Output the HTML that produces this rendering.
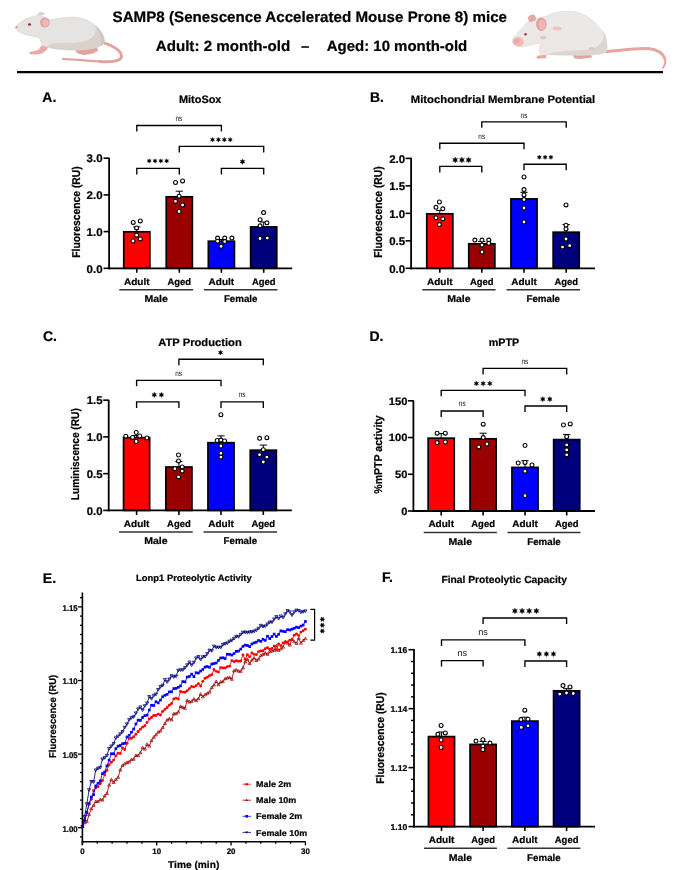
<!DOCTYPE html>
<html><head><meta charset="utf-8"><style>
html,body{margin:0;padding:0;background:#fff;width:685px;height:870px;overflow:hidden}
svg{display:block;font-family:"Liberation Sans",sans-serif;will-change:transform;text-rendering:geometricPrecision}
</style></head><body>
<svg width="685" height="870" viewBox="0 0 685 870">
<rect width="685" height="870" fill="#fff"/>
<g id="mouseL">
<path d="M103,42.5 C112,45.5 121,50 121.5,56 C122,61.5 110,62.2 100,61.5" stroke="#e2a19b" stroke-width="2.8" fill="none" stroke-linecap="round"/>
<path d="M100,61.5 C88,60.7 74,59.5 63,59" stroke="#e2a19b" stroke-width="2.2" fill="none" stroke-linecap="round"/>
<path d="M41.8,45.2 L48.8,46.6 L46,50.5 L42,53.6 L36,54.6 L30,54.2 L29.2,52.2 L34,51 L38.5,49.8 Z" fill="#e8aaa6"/>
<path d="M78,47.5 L96,46.5 L98.5,50.5 L93,53.5 L84,55 L77.5,53.5 L75.5,51 Z" fill="#e3a29e"/>
<path d="M15.9,26.8 C17,24.5 21,21.5 25,19.4 C29,17.6 33.5,16.2 37.4,15.4 C42,15.5 46,18 49.7,19.4 C53,19.6 56,18.7 60.2,18.1 C66,17.4 72,17 78,17.5 C88,19 97,25 102,33 C105.5,38.5 105,43 101,45.5 C98,47.5 92,49 86,49.5 C78,50.5 68,50 60.2,49.3 C56,49 52,48.3 49.7,47.5 C46,46.8 43.5,46 42.7,45.8 C41.5,43.5 40.5,40 39.2,37.4 C36,37 30,35.5 25.1,34.4 C21,33 18,31.5 16.5,29.5 C15.5,28.5 15.5,27.5 15.9,26.8 Z" fill="#e6e3e3" stroke="#d2cac3" stroke-width="0.5"/>
<path d="M47,47 C50,43.5 57,42.3 66,42.8 C76,43.2 84,42 90,39 C95.5,35.5 97,30 95,24.5 C99.5,28.5 103,33.5 104.2,38.5 C105,43 102,45.5 97,47.5 C90,49.5 80,50.5 70,50.3 C60,50 52,49 47,47 Z" fill="#d9d2cc"/>
<path d="M96,26 C100,30 103.5,35 104.3,39.5 C104.8,43 103,45 100.5,46.3 C102,42 101,34 96,26 Z" fill="#cfc7bf"/>
<path d="M37,15.5 C37.5,13.5 39,12 41,11.9 C43,11.8 44.8,12.6 44.8,14.6 C43,15.5 40,16 37,15.5 Z" fill="#d9d3cf"/>
<ellipse cx="44.9" cy="22.6" rx="4.8" ry="5" fill="#e3a3a1"/>
<ellipse cx="45.6" cy="22.9" rx="3" ry="3.6" fill="#ecbab8"/>
<ellipse cx="29.5" cy="24.5" rx="1.6" ry="1.25" fill="#b8222c"/>
<circle cx="16.6" cy="27.2" r="1.3" fill="#e6a0a0"/>
</g>
<g id="mouseR">
<path d="M605,51.5 C620,50.5 635,48 648,48.6 C657,49.5 663,53.5 665,59" stroke="#e5a6a1" stroke-width="3" fill="none" stroke-linecap="round"/>
<path d="M665,59 C665.8,62.5 664.8,65.5 663,67.6" stroke="#e5a6a1" stroke-width="2" fill="none" stroke-linecap="round"/>

<path d="M573,55 L591,54.5 L592,57.5 L580,59 L574,58.3 Z" fill="#e3a29e"/>
<path d="M512.4,40 C513,37 515,35.5 515.9,35.4 C518,32 520,30 521.1,29.3 C523,27 525,24.5 527.3,22.3 C530,20.5 533,19 536,18.5 C540,17.5 544,16.8 547.4,16.1 C550,14 553,13 556.2,12.6 C560,11.5 564,11 568,11.3 C576,11.5 584,13.5 590,18.5 C598,24 604,32 606.5,42 C608,48 607,52 604,53.5 C596,55 586,55.5 576,55.3 C566,55 556,55 548,54.5 C545,54 543.5,51 543,48.5 C541,46 540,44 538.7,43.3 C535,44 530,45.5 523.8,46.8 C519,47.5 515,45 513,43 C512.3,42 512.2,41 512.4,40 Z" fill="#ebe8e7" stroke="#d8d1cb" stroke-width="0.5"/>
<path d="M539.5,45 L548,47 L548.5,54.5 L546.5,56.5 L540,56.5 L538.5,50 Z" fill="#e9e6e5"/>
<path d="M546,54.5 C555,51.5 566,50.5 578,50.5 C590,50.5 598,47.5 602,42 C604.5,38 604,33 602,28.5 C605.5,34 607.5,40 607,47 C606.5,52 604,53.5 600,54 C590,55.5 575,55.5 560,55.2 Z" fill="#dcd6d0"/>
<ellipse cx="518.4" cy="41.8" rx="5.6" ry="4.8" fill="#ecbcb9"/>
<ellipse cx="516.5" cy="41" rx="3" ry="2.6" fill="#e6aaa7"/>
<ellipse cx="532" cy="18.3" rx="4" ry="3.5" fill="#e6a6a5" transform="rotate(-20 532 18.3)"/>
<ellipse cx="541.3" cy="24.2" rx="5.3" ry="6.8" fill="#e4a3a2"/>
<ellipse cx="542" cy="24.8" rx="3.3" ry="4.8" fill="#ecb7b5"/>
<ellipse cx="525.5" cy="34.3" rx="1.7" ry="1.4" fill="#e3b3b3"/>
<ellipse cx="525.5" cy="34.3" rx="1.2" ry="1.1" fill="#a8202a"/>
<ellipse cx="557" cy="28.4" rx="4.5" ry="1.9" fill="#eec5c0"/>
<ellipse cx="543" cy="37.6" rx="3.3" ry="1.8" fill="#eec5c0"/>
<ellipse cx="591.5" cy="48.4" rx="3" ry="1.2" fill="#e9bdb8"/>
<path d="M537,55.8 L545.5,55 L546.5,58 L538,58.8 L536.3,57.6 Z" fill="#e6a8a4"/>
</g>

<text x="309.80" y="22.30" font-size="15.1" text-anchor="middle" font-weight="bold" fill="#000" textLength="394.5" lengthAdjust="spacingAndGlyphs" stroke="#000" stroke-width="0.22" >SAMP8 (Senescence Accelerated Mouse Prone 8) mice</text>
<text x="223.00" y="51.30" font-size="14.8" text-anchor="middle" font-weight="bold" fill="#000" textLength="134.5" lengthAdjust="spacingAndGlyphs" stroke="#000" stroke-width="0.22" >Adult: 2 month-old</text>
<text x="305.00" y="51.30" font-size="14.8" text-anchor="middle" font-weight="bold" fill="#000" stroke="#000" stroke-width="0.22" >–</text>
<text x="397.00" y="51.30" font-size="14.8" text-anchor="middle" font-weight="bold" fill="#000" textLength="140.5" lengthAdjust="spacingAndGlyphs" stroke="#000" stroke-width="0.22" >Aged: 10 month-old</text>
<line x1="17.00" y1="72.20" x2="663.00" y2="72.20" stroke="#000" stroke-width="2.3"/>
<text x="42.30" y="102.40" font-size="14" text-anchor="start" font-weight="bold" fill="#000" stroke="#000" stroke-width="0.22" >A.</text>
<text x="200.20" y="103.20" font-size="10.8" text-anchor="middle" font-weight="bold" fill="#000" textLength="42.5" lengthAdjust="spacingAndGlyphs" stroke="#000" stroke-width="0.22" >MitoSox</text>
<rect x="123.75" y="231.80" width="26.10" height="36.50" fill="#ff0000" stroke="#000" stroke-width="1.7"/>
<rect x="166.25" y="196.80" width="26.10" height="71.50" fill="#9b0000" stroke="#000" stroke-width="1.7"/>
<rect x="208.35" y="241.20" width="26.10" height="27.10" fill="#0000ff" stroke="#000" stroke-width="1.7"/>
<rect x="250.65" y="226.90" width="26.10" height="41.40" fill="#00007d" stroke="#000" stroke-width="1.7"/>
<line x1="136.80" y1="231.80" x2="136.80" y2="226.90" stroke="#000" stroke-width="1.0"/>
<line x1="133.20" y1="226.90" x2="140.40" y2="226.90" stroke="#000" stroke-width="1.0"/>
<line x1="179.30" y1="196.80" x2="179.30" y2="191.20" stroke="#000" stroke-width="1.0"/>
<line x1="175.70" y1="191.20" x2="182.90" y2="191.20" stroke="#000" stroke-width="1.0"/>
<line x1="221.40" y1="241.20" x2="221.40" y2="239.50" stroke="#000" stroke-width="1.0"/>
<line x1="217.80" y1="239.50" x2="225.00" y2="239.50" stroke="#000" stroke-width="1.0"/>
<line x1="263.70" y1="226.90" x2="263.70" y2="222.00" stroke="#000" stroke-width="1.0"/>
<line x1="260.10" y1="222.00" x2="267.30" y2="222.00" stroke="#000" stroke-width="1.0"/>
<circle cx="133.20" cy="222.40" r="1.95" fill="#fff" stroke="#000" stroke-width="1.1"/>
<circle cx="140.30" cy="220.90" r="1.95" fill="#fff" stroke="#000" stroke-width="1.1"/>
<circle cx="136.60" cy="227.90" r="1.95" fill="#fff" stroke="#000" stroke-width="1.1"/>
<circle cx="136.60" cy="235.20" r="1.95" fill="#fff" stroke="#000" stroke-width="1.1"/>
<circle cx="133.00" cy="241.00" r="1.95" fill="#fff" stroke="#000" stroke-width="1.1"/>
<circle cx="140.30" cy="238.90" r="1.95" fill="#fff" stroke="#000" stroke-width="1.1"/>
<circle cx="175.50" cy="182.50" r="1.95" fill="#fff" stroke="#000" stroke-width="1.1"/>
<circle cx="182.60" cy="180.90" r="1.95" fill="#fff" stroke="#000" stroke-width="1.1"/>
<circle cx="179.10" cy="196.20" r="1.95" fill="#fff" stroke="#000" stroke-width="1.1"/>
<circle cx="175.50" cy="201.30" r="1.95" fill="#fff" stroke="#000" stroke-width="1.1"/>
<circle cx="182.60" cy="205.00" r="1.95" fill="#fff" stroke="#000" stroke-width="1.1"/>
<circle cx="179.10" cy="211.50" r="1.95" fill="#fff" stroke="#000" stroke-width="1.1"/>
<circle cx="217.60" cy="238.10" r="1.95" fill="#fff" stroke="#000" stroke-width="1.1"/>
<circle cx="224.70" cy="238.10" r="1.95" fill="#fff" stroke="#000" stroke-width="1.1"/>
<circle cx="231.90" cy="238.10" r="1.95" fill="#fff" stroke="#000" stroke-width="1.1"/>
<circle cx="217.60" cy="241.20" r="1.95" fill="#fff" stroke="#000" stroke-width="1.1"/>
<circle cx="224.70" cy="241.60" r="1.95" fill="#fff" stroke="#000" stroke-width="1.1"/>
<circle cx="221.10" cy="246.30" r="1.95" fill="#fff" stroke="#000" stroke-width="1.1"/>
<circle cx="263.60" cy="212.60" r="1.95" fill="#fff" stroke="#000" stroke-width="1.1"/>
<circle cx="260.10" cy="219.70" r="1.95" fill="#fff" stroke="#000" stroke-width="1.1"/>
<circle cx="267.00" cy="222.80" r="1.95" fill="#fff" stroke="#000" stroke-width="1.1"/>
<circle cx="260.10" cy="225.80" r="1.95" fill="#fff" stroke="#000" stroke-width="1.1"/>
<circle cx="260.10" cy="238.50" r="1.95" fill="#fff" stroke="#000" stroke-width="1.1"/>
<circle cx="267.30" cy="238.10" r="1.95" fill="#fff" stroke="#000" stroke-width="1.1"/>
<line x1="109.10" y1="157.80" x2="109.10" y2="269.20" stroke="#000" stroke-width="1.8"/>
<line x1="108.20" y1="268.30" x2="292.20" y2="268.30" stroke="#000" stroke-width="1.8"/>
<line x1="103.60" y1="268.30" x2="109.10" y2="268.30" stroke="#000" stroke-width="1.6"/>
<text x="102.60" y="272.50" font-size="11.2" text-anchor="end" font-weight="bold" fill="#000" textLength="16.0" lengthAdjust="spacingAndGlyphs" stroke="#000" stroke-width="0.22" >0.0</text>
<line x1="103.60" y1="231.60" x2="109.10" y2="231.60" stroke="#000" stroke-width="1.6"/>
<text x="102.60" y="235.80" font-size="11.2" text-anchor="end" font-weight="bold" fill="#000" textLength="16.0" lengthAdjust="spacingAndGlyphs" stroke="#000" stroke-width="0.22" >1.0</text>
<line x1="103.60" y1="194.90" x2="109.10" y2="194.90" stroke="#000" stroke-width="1.6"/>
<text x="102.60" y="199.10" font-size="11.2" text-anchor="end" font-weight="bold" fill="#000" textLength="16.0" lengthAdjust="spacingAndGlyphs" stroke="#000" stroke-width="0.22" >2.0</text>
<line x1="103.60" y1="158.20" x2="109.10" y2="158.20" stroke="#000" stroke-width="1.6"/>
<text x="102.60" y="162.40" font-size="11.2" text-anchor="end" font-weight="bold" fill="#000" textLength="16.0" lengthAdjust="spacingAndGlyphs" stroke="#000" stroke-width="0.22" >3.0</text>
<line x1="136.80" y1="268.30" x2="136.80" y2="272.80" stroke="#000" stroke-width="1.6"/>
<line x1="179.30" y1="268.30" x2="179.30" y2="272.80" stroke="#000" stroke-width="1.6"/>
<line x1="221.40" y1="268.30" x2="221.40" y2="272.80" stroke="#000" stroke-width="1.6"/>
<line x1="263.70" y1="268.30" x2="263.70" y2="272.80" stroke="#000" stroke-width="1.6"/>
<text x="136.80" y="284.60" font-size="9.6" text-anchor="middle" font-weight="bold" fill="#000" textLength="25.6" lengthAdjust="spacingAndGlyphs" stroke="#000" stroke-width="0.22" >Adult</text>
<text x="179.30" y="284.60" font-size="9.6" text-anchor="middle" font-weight="bold" fill="#000" textLength="23.6" lengthAdjust="spacingAndGlyphs" stroke="#000" stroke-width="0.22" >Aged</text>
<text x="221.40" y="284.60" font-size="9.6" text-anchor="middle" font-weight="bold" fill="#000" textLength="25.6" lengthAdjust="spacingAndGlyphs" stroke="#000" stroke-width="0.22" >Adult</text>
<text x="263.70" y="284.60" font-size="9.6" text-anchor="middle" font-weight="bold" fill="#000" textLength="23.6" lengthAdjust="spacingAndGlyphs" stroke="#000" stroke-width="0.22" >Aged</text>
<line x1="119.30" y1="289.70" x2="193.10" y2="289.70" stroke="#333" stroke-width="1.5"/>
<line x1="203.90" y1="289.70" x2="277.50" y2="289.70" stroke="#333" stroke-width="1.5"/>
<text x="156.20" y="302.10" font-size="9.8" text-anchor="middle" font-weight="bold" fill="#000" textLength="23.5" lengthAdjust="spacingAndGlyphs" stroke="#000" stroke-width="0.22" >Male</text>
<text x="240.70" y="302.10" font-size="9.8" text-anchor="middle" font-weight="bold" fill="#000" textLength="33.6" lengthAdjust="spacingAndGlyphs" stroke="#000" stroke-width="0.22" >Female</text>
<text x="79.50" y="212.00" font-size="11.3" text-anchor="middle" font-weight="bold" fill="#000" textLength="91.5" lengthAdjust="spacingAndGlyphs" transform="rotate(-90 79.50 212.00)" stroke="#000" stroke-width="0.22" >Fluorescence (RU)</text>
<path d="M136.80 131.50V125.50H221.40V131.50" stroke="#000" stroke-width="1.35" fill="none" />
<text x="178.90" y="121.00" font-size="8.0" text-anchor="middle" font-weight="normal" fill="#111" textLength="6.8" lengthAdjust="spacingAndGlyphs" >ns</text>
<path d="M179.30 152.40V146.40H263.70V152.40" stroke="#000" stroke-width="1.35" fill="none" />
<polygon points="212.50,137.36 213.08,138.69 214.52,138.53 213.67,139.70 214.52,140.87 213.08,140.71 212.50,142.04 211.92,140.71 210.48,140.87 211.33,139.70 210.48,138.53 211.92,138.69" fill="#000" stroke="#000" stroke-width="0.35" stroke-linejoin="round"/>
<polygon points="218.40,137.36 218.98,138.69 220.42,138.53 219.57,139.70 220.42,140.87 218.98,140.71 218.40,142.04 217.82,140.71 216.38,140.87 217.23,139.70 216.38,138.53 217.82,138.69" fill="#000" stroke="#000" stroke-width="0.35" stroke-linejoin="round"/>
<polygon points="224.30,137.36 224.88,138.69 226.32,138.53 225.47,139.70 226.32,140.87 224.88,140.71 224.30,142.04 223.72,140.71 222.28,140.87 223.13,139.70 222.28,138.53 223.72,138.69" fill="#000" stroke="#000" stroke-width="0.35" stroke-linejoin="round"/>
<polygon points="230.20,137.36 230.78,138.69 232.22,138.53 231.37,139.70 232.22,140.87 230.78,140.71 230.20,142.04 229.62,140.71 228.18,140.87 229.03,139.70 228.18,138.53 229.62,138.69" fill="#000" stroke="#000" stroke-width="0.35" stroke-linejoin="round"/>
<path d="M136.80 174.40V168.40H179.30V174.40" stroke="#000" stroke-width="1.35" fill="none" />
<polygon points="149.20,158.63 149.77,159.92 151.17,159.76 150.34,160.90 151.17,162.04 149.77,161.88 149.20,163.17 148.64,161.88 147.24,162.04 148.07,160.90 147.24,159.76 148.64,159.92" fill="#000" stroke="#000" stroke-width="0.35" stroke-linejoin="round"/>
<polygon points="155.03,158.63 155.60,159.92 157.00,159.76 156.17,160.90 157.00,162.04 155.60,161.88 155.03,163.17 154.47,161.88 153.07,162.04 153.90,160.90 153.07,159.76 154.47,159.92" fill="#000" stroke="#000" stroke-width="0.35" stroke-linejoin="round"/>
<polygon points="160.86,158.63 161.43,159.92 162.83,159.76 162.00,160.90 162.83,162.04 161.43,161.88 160.86,163.17 160.30,161.88 158.90,162.04 159.73,160.90 158.90,159.76 160.30,159.92" fill="#000" stroke="#000" stroke-width="0.35" stroke-linejoin="round"/>
<polygon points="166.69,158.63 167.26,159.92 168.66,159.76 167.83,160.90 168.66,162.04 167.26,161.88 166.69,163.17 166.13,161.88 164.73,162.04 165.56,160.90 164.73,159.76 166.13,159.92" fill="#000" stroke="#000" stroke-width="0.35" stroke-linejoin="round"/>
<path d="M221.40 174.40V168.40H263.70V174.40" stroke="#000" stroke-width="1.35" fill="none" />
<polygon points="242.50,158.98 243.18,160.52 244.86,160.34 243.86,161.70 244.86,163.06 243.18,162.88 242.50,164.42 241.82,162.88 240.14,163.06 241.14,161.70 240.14,160.34 241.82,160.52" fill="#000" stroke="#000" stroke-width="0.35" stroke-linejoin="round"/>
<text x="370.00" y="101.80" font-size="14" text-anchor="start" font-weight="bold" fill="#000" stroke="#000" stroke-width="0.22" >B.</text>
<text x="503.00" y="103.00" font-size="10.9" text-anchor="middle" font-weight="bold" fill="#000" textLength="184.5" lengthAdjust="spacingAndGlyphs" stroke="#000" stroke-width="0.22" >Mitochondrial Membrane Potential</text>
<rect x="426.75" y="213.80" width="26.10" height="54.50" fill="#ff0000" stroke="#000" stroke-width="1.7"/>
<rect x="468.75" y="243.80" width="26.10" height="24.50" fill="#9b0000" stroke="#000" stroke-width="1.7"/>
<rect x="510.95" y="198.90" width="26.10" height="69.40" fill="#0000ff" stroke="#000" stroke-width="1.7"/>
<rect x="553.15" y="232.20" width="26.10" height="36.10" fill="#00007d" stroke="#000" stroke-width="1.7"/>
<line x1="439.80" y1="213.80" x2="439.80" y2="210.40" stroke="#000" stroke-width="1.0"/>
<line x1="436.20" y1="210.40" x2="443.40" y2="210.40" stroke="#000" stroke-width="1.0"/>
<line x1="481.80" y1="243.80" x2="481.80" y2="241.50" stroke="#000" stroke-width="1.0"/>
<line x1="478.20" y1="241.50" x2="485.40" y2="241.50" stroke="#000" stroke-width="1.0"/>
<line x1="524.00" y1="198.90" x2="524.00" y2="192.30" stroke="#000" stroke-width="1.0"/>
<line x1="520.40" y1="192.30" x2="527.60" y2="192.30" stroke="#000" stroke-width="1.0"/>
<line x1="566.20" y1="232.20" x2="566.20" y2="224.50" stroke="#000" stroke-width="1.0"/>
<line x1="562.60" y1="224.50" x2="569.80" y2="224.50" stroke="#000" stroke-width="1.0"/>
<circle cx="439.40" cy="202.00" r="1.95" fill="#fff" stroke="#000" stroke-width="1.1"/>
<circle cx="436.00" cy="207.30" r="1.95" fill="#fff" stroke="#000" stroke-width="1.1"/>
<circle cx="442.80" cy="208.80" r="1.95" fill="#fff" stroke="#000" stroke-width="1.1"/>
<circle cx="436.00" cy="217.80" r="1.95" fill="#fff" stroke="#000" stroke-width="1.1"/>
<circle cx="442.80" cy="218.80" r="1.95" fill="#fff" stroke="#000" stroke-width="1.1"/>
<circle cx="439.40" cy="224.60" r="1.95" fill="#fff" stroke="#000" stroke-width="1.1"/>
<circle cx="474.90" cy="240.10" r="1.95" fill="#fff" stroke="#000" stroke-width="1.1"/>
<circle cx="482.00" cy="240.10" r="1.95" fill="#fff" stroke="#000" stroke-width="1.1"/>
<circle cx="488.80" cy="240.10" r="1.95" fill="#fff" stroke="#000" stroke-width="1.1"/>
<circle cx="482.00" cy="245.10" r="1.95" fill="#fff" stroke="#000" stroke-width="1.1"/>
<circle cx="488.80" cy="243.30" r="1.95" fill="#fff" stroke="#000" stroke-width="1.1"/>
<circle cx="482.00" cy="252.00" r="1.95" fill="#fff" stroke="#000" stroke-width="1.1"/>
<circle cx="524.00" cy="177.00" r="1.95" fill="#fff" stroke="#000" stroke-width="1.1"/>
<circle cx="524.00" cy="189.60" r="1.95" fill="#fff" stroke="#000" stroke-width="1.1"/>
<circle cx="524.00" cy="194.90" r="1.95" fill="#fff" stroke="#000" stroke-width="1.1"/>
<circle cx="524.00" cy="199.60" r="1.95" fill="#fff" stroke="#000" stroke-width="1.1"/>
<circle cx="524.00" cy="208.00" r="1.95" fill="#fff" stroke="#000" stroke-width="1.1"/>
<circle cx="524.00" cy="222.00" r="1.95" fill="#fff" stroke="#000" stroke-width="1.1"/>
<circle cx="566.00" cy="204.90" r="1.95" fill="#fff" stroke="#000" stroke-width="1.1"/>
<circle cx="566.00" cy="225.20" r="1.95" fill="#fff" stroke="#000" stroke-width="1.1"/>
<circle cx="566.00" cy="229.00" r="1.95" fill="#fff" stroke="#000" stroke-width="1.1"/>
<circle cx="566.00" cy="239.00" r="1.95" fill="#fff" stroke="#000" stroke-width="1.1"/>
<circle cx="562.50" cy="247.10" r="1.95" fill="#fff" stroke="#000" stroke-width="1.1"/>
<circle cx="569.70" cy="245.70" r="1.95" fill="#fff" stroke="#000" stroke-width="1.1"/>
<line x1="411.10" y1="157.80" x2="411.10" y2="269.20" stroke="#000" stroke-width="1.8"/>
<line x1="410.20" y1="268.30" x2="595.00" y2="268.30" stroke="#000" stroke-width="1.8"/>
<line x1="405.60" y1="268.30" x2="411.10" y2="268.30" stroke="#000" stroke-width="1.6"/>
<text x="405.20" y="272.50" font-size="11.2" text-anchor="end" font-weight="bold" fill="#000" textLength="16.0" lengthAdjust="spacingAndGlyphs" stroke="#000" stroke-width="0.22" >0.0</text>
<line x1="405.60" y1="240.83" x2="411.10" y2="240.83" stroke="#000" stroke-width="1.6"/>
<text x="405.20" y="245.03" font-size="11.2" text-anchor="end" font-weight="bold" fill="#000" textLength="16.0" lengthAdjust="spacingAndGlyphs" stroke="#000" stroke-width="0.22" >0.5</text>
<line x1="405.60" y1="213.35" x2="411.10" y2="213.35" stroke="#000" stroke-width="1.6"/>
<text x="405.20" y="217.55" font-size="11.2" text-anchor="end" font-weight="bold" fill="#000" textLength="16.0" lengthAdjust="spacingAndGlyphs" stroke="#000" stroke-width="0.22" >1.0</text>
<line x1="405.60" y1="185.88" x2="411.10" y2="185.88" stroke="#000" stroke-width="1.6"/>
<text x="405.20" y="190.07" font-size="11.2" text-anchor="end" font-weight="bold" fill="#000" textLength="16.0" lengthAdjust="spacingAndGlyphs" stroke="#000" stroke-width="0.22" >1.5</text>
<line x1="405.60" y1="158.40" x2="411.10" y2="158.40" stroke="#000" stroke-width="1.6"/>
<text x="405.20" y="162.60" font-size="11.2" text-anchor="end" font-weight="bold" fill="#000" textLength="16.0" lengthAdjust="spacingAndGlyphs" stroke="#000" stroke-width="0.22" >2.0</text>
<line x1="439.80" y1="268.30" x2="439.80" y2="272.80" stroke="#000" stroke-width="1.6"/>
<line x1="481.80" y1="268.30" x2="481.80" y2="272.80" stroke="#000" stroke-width="1.6"/>
<line x1="524.00" y1="268.30" x2="524.00" y2="272.80" stroke="#000" stroke-width="1.6"/>
<line x1="566.20" y1="268.30" x2="566.20" y2="272.80" stroke="#000" stroke-width="1.6"/>
<text x="439.80" y="284.70" font-size="9.6" text-anchor="middle" font-weight="bold" fill="#000" textLength="25.6" lengthAdjust="spacingAndGlyphs" stroke="#000" stroke-width="0.22" >Adult</text>
<text x="481.80" y="284.70" font-size="9.6" text-anchor="middle" font-weight="bold" fill="#000" textLength="23.6" lengthAdjust="spacingAndGlyphs" stroke="#000" stroke-width="0.22" >Aged</text>
<text x="524.00" y="284.70" font-size="9.6" text-anchor="middle" font-weight="bold" fill="#000" textLength="25.6" lengthAdjust="spacingAndGlyphs" stroke="#000" stroke-width="0.22" >Adult</text>
<text x="566.20" y="284.70" font-size="9.6" text-anchor="middle" font-weight="bold" fill="#000" textLength="23.6" lengthAdjust="spacingAndGlyphs" stroke="#000" stroke-width="0.22" >Aged</text>
<line x1="422.30" y1="289.80" x2="495.60" y2="289.80" stroke="#333" stroke-width="1.5"/>
<line x1="506.50" y1="289.80" x2="580.00" y2="289.80" stroke="#333" stroke-width="1.5"/>
<text x="458.95" y="302.20" font-size="9.8" text-anchor="middle" font-weight="bold" fill="#000" textLength="23.5" lengthAdjust="spacingAndGlyphs" stroke="#000" stroke-width="0.22" >Male</text>
<text x="543.25" y="302.20" font-size="9.8" text-anchor="middle" font-weight="bold" fill="#000" textLength="33.6" lengthAdjust="spacingAndGlyphs" stroke="#000" stroke-width="0.22" >Female</text>
<text x="382.00" y="212.00" font-size="11.5" text-anchor="middle" font-weight="bold" fill="#000" textLength="91.5" lengthAdjust="spacingAndGlyphs" transform="rotate(-90 382.00 212.00)" stroke="#000" stroke-width="0.22" >Fluorescence (RU)</text>
<path d="M481.80 127.80V121.80H566.20V127.80" stroke="#000" stroke-width="1.35" fill="none" />
<text x="524.00" y="117.50" font-size="8.0" text-anchor="middle" font-weight="normal" fill="#111" textLength="6.8" lengthAdjust="spacingAndGlyphs" >ns</text>
<path d="M439.80 149.20V143.20H524.00V149.20" stroke="#000" stroke-width="1.35" fill="none" />
<text x="481.70" y="138.50" font-size="8.0" text-anchor="middle" font-weight="normal" fill="#111" textLength="6.8" lengthAdjust="spacingAndGlyphs" >ns</text>
<path d="M439.80 172.40V166.40H481.80V172.40" stroke="#000" stroke-width="1.35" fill="none" />
<polygon points="455.20,157.08 455.93,158.74 457.73,158.54 456.66,160.00 457.73,161.46 455.93,161.26 455.20,162.92 454.47,161.26 452.67,161.46 453.74,160.00 452.67,158.54 454.47,158.74" fill="#000" stroke="#000" stroke-width="0.35" stroke-linejoin="round"/>
<polygon points="461.90,157.08 462.63,158.74 464.43,158.54 463.36,160.00 464.43,161.46 462.63,161.26 461.90,162.92 461.17,161.26 459.37,161.46 460.44,160.00 459.37,158.54 461.17,158.74" fill="#000" stroke="#000" stroke-width="0.35" stroke-linejoin="round"/>
<polygon points="468.60,157.08 469.33,158.74 471.13,158.54 470.06,160.00 471.13,161.46 469.33,161.26 468.60,162.92 467.87,161.26 466.07,161.46 467.14,160.00 466.07,158.54 467.87,158.74" fill="#000" stroke="#000" stroke-width="0.35" stroke-linejoin="round"/>
<path d="M524.00 170.20V164.20H566.20V170.20" stroke="#000" stroke-width="1.35" fill="none" />
<polygon points="539.30,154.93 539.87,156.22 541.27,156.06 540.44,157.20 541.27,158.34 539.87,158.18 539.30,159.47 538.73,158.18 537.33,158.34 538.16,157.20 537.33,156.06 538.73,156.22" fill="#000" stroke="#000" stroke-width="0.35" stroke-linejoin="round"/>
<polygon points="545.10,154.93 545.67,156.22 547.07,156.06 546.24,157.20 547.07,158.34 545.67,158.18 545.10,159.47 544.53,158.18 543.13,158.34 543.96,157.20 543.13,156.06 544.53,156.22" fill="#000" stroke="#000" stroke-width="0.35" stroke-linejoin="round"/>
<polygon points="550.90,154.93 551.47,156.22 552.87,156.06 552.04,157.20 552.87,158.34 551.47,158.18 550.90,159.47 550.33,158.18 548.93,158.34 549.76,157.20 548.93,156.06 550.33,156.22" fill="#000" stroke="#000" stroke-width="0.35" stroke-linejoin="round"/>
<text x="43.00" y="341.40" font-size="14" text-anchor="start" font-weight="bold" fill="#000" stroke="#000" stroke-width="0.22" >C.</text>
<text x="200.00" y="346.00" font-size="10.9" text-anchor="middle" font-weight="bold" fill="#000" textLength="83.5" lengthAdjust="spacingAndGlyphs" stroke="#000" stroke-width="0.22" >ATP Production</text>
<rect x="123.55" y="437.60" width="26.10" height="72.80" fill="#ff0000" stroke="#000" stroke-width="1.7"/>
<rect x="165.85" y="467.00" width="26.10" height="43.40" fill="#9b0000" stroke="#000" stroke-width="1.7"/>
<rect x="207.95" y="442.70" width="26.10" height="67.70" fill="#0000ff" stroke="#000" stroke-width="1.7"/>
<rect x="250.25" y="450.20" width="26.10" height="60.20" fill="#00007d" stroke="#000" stroke-width="1.7"/>
<line x1="136.60" y1="437.60" x2="136.60" y2="435.50" stroke="#000" stroke-width="1.0"/>
<line x1="133.00" y1="435.50" x2="140.20" y2="435.50" stroke="#000" stroke-width="1.0"/>
<line x1="178.90" y1="467.00" x2="178.90" y2="461.50" stroke="#000" stroke-width="1.0"/>
<line x1="175.30" y1="461.50" x2="182.50" y2="461.50" stroke="#000" stroke-width="1.0"/>
<line x1="221.00" y1="442.70" x2="221.00" y2="435.90" stroke="#000" stroke-width="1.0"/>
<line x1="217.40" y1="435.90" x2="224.60" y2="435.90" stroke="#000" stroke-width="1.0"/>
<line x1="263.30" y1="450.20" x2="263.30" y2="445.10" stroke="#000" stroke-width="1.0"/>
<line x1="259.70" y1="445.10" x2="266.90" y2="445.10" stroke="#000" stroke-width="1.0"/>
<circle cx="125.80" cy="436.20" r="1.95" fill="#fff" stroke="#000" stroke-width="1.1"/>
<circle cx="132.60" cy="437.40" r="1.95" fill="#fff" stroke="#000" stroke-width="1.1"/>
<circle cx="136.20" cy="432.50" r="1.95" fill="#fff" stroke="#000" stroke-width="1.1"/>
<circle cx="139.70" cy="436.00" r="1.95" fill="#fff" stroke="#000" stroke-width="1.1"/>
<circle cx="146.90" cy="438.00" r="1.95" fill="#fff" stroke="#000" stroke-width="1.1"/>
<circle cx="136.20" cy="441.50" r="1.95" fill="#fff" stroke="#000" stroke-width="1.1"/>
<circle cx="178.50" cy="455.00" r="1.95" fill="#fff" stroke="#000" stroke-width="1.1"/>
<circle cx="178.50" cy="460.90" r="1.95" fill="#fff" stroke="#000" stroke-width="1.1"/>
<circle cx="174.90" cy="468.70" r="1.95" fill="#fff" stroke="#000" stroke-width="1.1"/>
<circle cx="182.20" cy="467.00" r="1.95" fill="#fff" stroke="#000" stroke-width="1.1"/>
<circle cx="182.20" cy="471.10" r="1.95" fill="#fff" stroke="#000" stroke-width="1.1"/>
<circle cx="178.50" cy="476.90" r="1.95" fill="#fff" stroke="#000" stroke-width="1.1"/>
<circle cx="220.90" cy="414.70" r="1.95" fill="#fff" stroke="#000" stroke-width="1.1"/>
<circle cx="217.20" cy="440.50" r="1.95" fill="#fff" stroke="#000" stroke-width="1.1"/>
<circle cx="220.90" cy="440.10" r="1.95" fill="#fff" stroke="#000" stroke-width="1.1"/>
<circle cx="224.60" cy="440.90" r="1.95" fill="#fff" stroke="#000" stroke-width="1.1"/>
<circle cx="220.90" cy="446.00" r="1.95" fill="#fff" stroke="#000" stroke-width="1.1"/>
<circle cx="220.90" cy="453.40" r="1.95" fill="#fff" stroke="#000" stroke-width="1.1"/>
<circle cx="220.90" cy="457.10" r="1.95" fill="#fff" stroke="#000" stroke-width="1.1"/>
<circle cx="259.60" cy="438.30" r="1.95" fill="#fff" stroke="#000" stroke-width="1.1"/>
<circle cx="266.90" cy="437.70" r="1.95" fill="#fff" stroke="#000" stroke-width="1.1"/>
<circle cx="263.30" cy="449.70" r="1.95" fill="#fff" stroke="#000" stroke-width="1.1"/>
<circle cx="259.60" cy="454.70" r="1.95" fill="#fff" stroke="#000" stroke-width="1.1"/>
<circle cx="266.90" cy="457.10" r="1.95" fill="#fff" stroke="#000" stroke-width="1.1"/>
<circle cx="263.30" cy="462.00" r="1.95" fill="#fff" stroke="#000" stroke-width="1.1"/>
<line x1="108.70" y1="399.80" x2="108.70" y2="511.30" stroke="#000" stroke-width="1.8"/>
<line x1="107.80" y1="510.40" x2="291.80" y2="510.40" stroke="#000" stroke-width="1.8"/>
<line x1="103.20" y1="510.40" x2="108.70" y2="510.40" stroke="#000" stroke-width="1.6"/>
<text x="102.60" y="514.60" font-size="11.2" text-anchor="end" font-weight="bold" fill="#000" textLength="15.8" lengthAdjust="spacingAndGlyphs" stroke="#000" stroke-width="0.22" >0.0</text>
<line x1="103.20" y1="473.65" x2="108.70" y2="473.65" stroke="#000" stroke-width="1.6"/>
<text x="102.60" y="477.85" font-size="11.2" text-anchor="end" font-weight="bold" fill="#000" textLength="15.8" lengthAdjust="spacingAndGlyphs" stroke="#000" stroke-width="0.22" >0.5</text>
<line x1="103.20" y1="436.90" x2="108.70" y2="436.90" stroke="#000" stroke-width="1.6"/>
<text x="102.60" y="441.10" font-size="11.2" text-anchor="end" font-weight="bold" fill="#000" textLength="15.8" lengthAdjust="spacingAndGlyphs" stroke="#000" stroke-width="0.22" >1.0</text>
<line x1="103.20" y1="400.15" x2="108.70" y2="400.15" stroke="#000" stroke-width="1.6"/>
<text x="102.60" y="404.35" font-size="11.2" text-anchor="end" font-weight="bold" fill="#000" textLength="15.8" lengthAdjust="spacingAndGlyphs" stroke="#000" stroke-width="0.22" >1.5</text>
<line x1="136.60" y1="510.40" x2="136.60" y2="514.90" stroke="#000" stroke-width="1.6"/>
<line x1="178.90" y1="510.40" x2="178.90" y2="514.90" stroke="#000" stroke-width="1.6"/>
<line x1="221.00" y1="510.40" x2="221.00" y2="514.90" stroke="#000" stroke-width="1.6"/>
<line x1="263.30" y1="510.40" x2="263.30" y2="514.90" stroke="#000" stroke-width="1.6"/>
<text x="136.60" y="526.60" font-size="9.6" text-anchor="middle" font-weight="bold" fill="#000" textLength="25.6" lengthAdjust="spacingAndGlyphs" stroke="#000" stroke-width="0.22" >Adult</text>
<text x="178.90" y="526.60" font-size="9.6" text-anchor="middle" font-weight="bold" fill="#000" textLength="23.6" lengthAdjust="spacingAndGlyphs" stroke="#000" stroke-width="0.22" >Aged</text>
<text x="221.00" y="526.60" font-size="9.6" text-anchor="middle" font-weight="bold" fill="#000" textLength="25.6" lengthAdjust="spacingAndGlyphs" stroke="#000" stroke-width="0.22" >Adult</text>
<text x="263.30" y="526.60" font-size="9.6" text-anchor="middle" font-weight="bold" fill="#000" textLength="23.6" lengthAdjust="spacingAndGlyphs" stroke="#000" stroke-width="0.22" >Aged</text>
<line x1="119.10" y1="532.00" x2="192.70" y2="532.00" stroke="#333" stroke-width="1.5"/>
<line x1="203.50" y1="532.00" x2="277.10" y2="532.00" stroke="#333" stroke-width="1.5"/>
<text x="155.90" y="544.00" font-size="9.8" text-anchor="middle" font-weight="bold" fill="#000" textLength="23.5" lengthAdjust="spacingAndGlyphs" stroke="#000" stroke-width="0.22" >Male</text>
<text x="240.30" y="544.00" font-size="9.8" text-anchor="middle" font-weight="bold" fill="#000" textLength="33.6" lengthAdjust="spacingAndGlyphs" stroke="#000" stroke-width="0.22" >Female</text>
<text x="79.50" y="454.20" font-size="11.2" text-anchor="middle" font-weight="bold" fill="#000" textLength="92.0" lengthAdjust="spacingAndGlyphs" transform="rotate(-90 79.50 454.20)" stroke="#000" stroke-width="0.22" >Luminiscence (RU)</text>
<path d="M178.90 365.20V359.20H263.30V365.20" stroke="#000" stroke-width="1.35" fill="none" />
<polygon points="220.50,350.14 221.12,351.53 222.63,351.37 221.73,352.60 222.63,353.83 221.12,353.67 220.50,355.06 219.88,353.67 218.37,353.83 219.27,352.60 218.37,351.37 219.88,351.53" fill="#000" stroke="#000" stroke-width="0.35" stroke-linejoin="round"/>
<path d="M136.60 386.30V380.30H221.00V386.30" stroke="#000" stroke-width="1.35" fill="none" />
<text x="178.60" y="376.00" font-size="8.0" text-anchor="middle" font-weight="normal" fill="#111" textLength="6.8" lengthAdjust="spacingAndGlyphs" >ns</text>
<path d="M136.60 407.90V401.90H178.90V407.90" stroke="#000" stroke-width="1.35" fill="none" />
<polygon points="154.30,392.14 154.96,393.65 156.60,393.47 155.63,394.80 156.60,396.13 154.96,395.95 154.30,397.46 153.64,395.95 152.00,396.13 152.97,394.80 152.00,393.47 153.64,393.65" fill="#000" stroke="#000" stroke-width="0.35" stroke-linejoin="round"/>
<polygon points="161.40,392.14 162.06,393.65 163.70,393.47 162.73,394.80 163.70,396.13 162.06,395.95 161.40,397.46 160.74,395.95 159.10,396.13 160.07,394.80 159.10,393.47 160.74,393.65" fill="#000" stroke="#000" stroke-width="0.35" stroke-linejoin="round"/>
<path d="M221.00 407.90V401.90H263.30V407.90" stroke="#000" stroke-width="1.35" fill="none" />
<text x="242.10" y="397.00" font-size="8.0" text-anchor="middle" font-weight="normal" fill="#111" textLength="6.8" lengthAdjust="spacingAndGlyphs" >ns</text>
<text x="369.50" y="341.40" font-size="14" text-anchor="start" font-weight="bold" fill="#000" stroke="#000" stroke-width="0.22" >D.</text>
<text x="504.00" y="346.00" font-size="10.8" text-anchor="middle" font-weight="bold" fill="#000" textLength="30.5" lengthAdjust="spacingAndGlyphs" stroke="#000" stroke-width="0.22" >mPTP</text>
<rect x="428.15" y="438.20" width="26.10" height="72.80" fill="#ff0000" stroke="#000" stroke-width="1.7"/>
<rect x="470.05" y="438.80" width="26.10" height="72.20" fill="#9b0000" stroke="#000" stroke-width="1.7"/>
<rect x="511.95" y="467.40" width="26.10" height="43.60" fill="#0000ff" stroke="#000" stroke-width="1.7"/>
<rect x="553.65" y="439.60" width="26.10" height="71.40" fill="#00007d" stroke="#000" stroke-width="1.7"/>
<line x1="441.20" y1="438.20" x2="441.20" y2="433.50" stroke="#000" stroke-width="1.0"/>
<line x1="437.60" y1="433.50" x2="444.80" y2="433.50" stroke="#000" stroke-width="1.0"/>
<line x1="483.10" y1="438.80" x2="483.10" y2="433.20" stroke="#000" stroke-width="1.0"/>
<line x1="479.50" y1="433.20" x2="486.70" y2="433.20" stroke="#000" stroke-width="1.0"/>
<line x1="525.00" y1="467.40" x2="525.00" y2="460.70" stroke="#000" stroke-width="1.0"/>
<line x1="521.40" y1="460.70" x2="528.60" y2="460.70" stroke="#000" stroke-width="1.0"/>
<line x1="566.70" y1="439.60" x2="566.70" y2="434.40" stroke="#000" stroke-width="1.0"/>
<line x1="563.10" y1="434.40" x2="570.30" y2="434.40" stroke="#000" stroke-width="1.0"/>
<circle cx="437.10" cy="433.20" r="1.95" fill="#fff" stroke="#000" stroke-width="1.1"/>
<circle cx="445.30" cy="433.20" r="1.95" fill="#fff" stroke="#000" stroke-width="1.1"/>
<circle cx="437.10" cy="442.60" r="1.95" fill="#fff" stroke="#000" stroke-width="1.1"/>
<circle cx="445.30" cy="442.00" r="1.95" fill="#fff" stroke="#000" stroke-width="1.1"/>
<circle cx="483.20" cy="424.20" r="1.95" fill="#fff" stroke="#000" stroke-width="1.1"/>
<circle cx="483.20" cy="437.60" r="1.95" fill="#fff" stroke="#000" stroke-width="1.1"/>
<circle cx="478.80" cy="446.90" r="1.95" fill="#fff" stroke="#000" stroke-width="1.1"/>
<circle cx="487.00" cy="444.00" r="1.95" fill="#fff" stroke="#000" stroke-width="1.1"/>
<circle cx="525.00" cy="445.50" r="1.95" fill="#fff" stroke="#000" stroke-width="1.1"/>
<circle cx="518.20" cy="463.00" r="1.95" fill="#fff" stroke="#000" stroke-width="1.1"/>
<circle cx="525.00" cy="462.40" r="1.95" fill="#fff" stroke="#000" stroke-width="1.1"/>
<circle cx="532.00" cy="465.00" r="1.95" fill="#fff" stroke="#000" stroke-width="1.1"/>
<circle cx="525.00" cy="471.20" r="1.95" fill="#fff" stroke="#000" stroke-width="1.1"/>
<circle cx="525.00" cy="495.70" r="1.95" fill="#fff" stroke="#000" stroke-width="1.1"/>
<circle cx="563.50" cy="425.00" r="1.95" fill="#fff" stroke="#000" stroke-width="1.1"/>
<circle cx="570.20" cy="423.90" r="1.95" fill="#fff" stroke="#000" stroke-width="1.1"/>
<circle cx="566.70" cy="436.70" r="1.95" fill="#fff" stroke="#000" stroke-width="1.1"/>
<circle cx="566.70" cy="444.90" r="1.95" fill="#fff" stroke="#000" stroke-width="1.1"/>
<circle cx="566.70" cy="449.90" r="1.95" fill="#fff" stroke="#000" stroke-width="1.1"/>
<circle cx="566.70" cy="454.80" r="1.95" fill="#fff" stroke="#000" stroke-width="1.1"/>
<line x1="413.40" y1="400.40" x2="413.40" y2="511.90" stroke="#000" stroke-width="1.8"/>
<line x1="412.50" y1="511.00" x2="595.00" y2="511.00" stroke="#000" stroke-width="1.8"/>
<line x1="407.90" y1="511.00" x2="413.40" y2="511.00" stroke="#000" stroke-width="1.6"/>
<text x="407.40" y="514.90" font-size="10.6" text-anchor="end" font-weight="bold" fill="#000" textLength="6.2" lengthAdjust="spacingAndGlyphs" stroke="#000" stroke-width="0.22" >0</text>
<line x1="407.90" y1="474.27" x2="413.40" y2="474.27" stroke="#000" stroke-width="1.6"/>
<text x="407.40" y="478.17" font-size="10.6" text-anchor="end" font-weight="bold" fill="#000" textLength="12.4" lengthAdjust="spacingAndGlyphs" stroke="#000" stroke-width="0.22" >50</text>
<line x1="407.90" y1="437.54" x2="413.40" y2="437.54" stroke="#000" stroke-width="1.6"/>
<text x="407.40" y="441.44" font-size="10.6" text-anchor="end" font-weight="bold" fill="#000" textLength="18.6" lengthAdjust="spacingAndGlyphs" stroke="#000" stroke-width="0.22" >100</text>
<line x1="407.90" y1="400.81" x2="413.40" y2="400.81" stroke="#000" stroke-width="1.6"/>
<text x="407.40" y="404.71" font-size="10.6" text-anchor="end" font-weight="bold" fill="#000" textLength="18.6" lengthAdjust="spacingAndGlyphs" stroke="#000" stroke-width="0.22" >150</text>
<line x1="441.20" y1="511.00" x2="441.20" y2="515.50" stroke="#000" stroke-width="1.6"/>
<line x1="483.10" y1="511.00" x2="483.10" y2="515.50" stroke="#000" stroke-width="1.6"/>
<line x1="525.00" y1="511.00" x2="525.00" y2="515.50" stroke="#000" stroke-width="1.6"/>
<line x1="566.70" y1="511.00" x2="566.70" y2="515.50" stroke="#000" stroke-width="1.6"/>
<text x="441.20" y="527.20" font-size="9.6" text-anchor="middle" font-weight="bold" fill="#000" textLength="25.6" lengthAdjust="spacingAndGlyphs" stroke="#000" stroke-width="0.22" >Adult</text>
<text x="483.10" y="527.20" font-size="9.6" text-anchor="middle" font-weight="bold" fill="#000" textLength="23.6" lengthAdjust="spacingAndGlyphs" stroke="#000" stroke-width="0.22" >Aged</text>
<text x="525.00" y="527.20" font-size="9.6" text-anchor="middle" font-weight="bold" fill="#000" textLength="25.6" lengthAdjust="spacingAndGlyphs" stroke="#000" stroke-width="0.22" >Adult</text>
<text x="566.70" y="527.20" font-size="9.6" text-anchor="middle" font-weight="bold" fill="#000" textLength="23.6" lengthAdjust="spacingAndGlyphs" stroke="#000" stroke-width="0.22" >Aged</text>
<line x1="423.70" y1="532.50" x2="496.90" y2="532.50" stroke="#333" stroke-width="1.5"/>
<line x1="507.50" y1="532.50" x2="580.50" y2="532.50" stroke="#333" stroke-width="1.5"/>
<text x="460.30" y="544.70" font-size="9.8" text-anchor="middle" font-weight="bold" fill="#000" textLength="23.5" lengthAdjust="spacingAndGlyphs" stroke="#000" stroke-width="0.22" >Male</text>
<text x="544.00" y="544.70" font-size="9.8" text-anchor="middle" font-weight="bold" fill="#000" textLength="33.6" lengthAdjust="spacingAndGlyphs" stroke="#000" stroke-width="0.22" >Female</text>
<text x="382.20" y="454.50" font-size="11.3" text-anchor="middle" font-weight="bold" fill="#000" textLength="78.5" lengthAdjust="spacingAndGlyphs" transform="rotate(-90 382.20 454.50)" stroke="#000" stroke-width="0.22" >%mPTP activity</text>
<path d="M483.10 374.40V368.40H566.70V374.40" stroke="#000" stroke-width="1.35" fill="none" />
<text x="524.80" y="364.00" font-size="8.0" text-anchor="middle" font-weight="normal" fill="#111" textLength="6.8" lengthAdjust="spacingAndGlyphs" >ns</text>
<path d="M441.20 396.30V390.30H525.00V396.30" stroke="#000" stroke-width="1.35" fill="none" />
<polygon points="476.35,380.91 477.00,382.38 478.60,382.20 477.65,383.50 478.60,384.80 477.00,384.62 476.35,386.09 475.70,384.62 474.10,384.80 475.05,383.50 474.10,382.20 475.70,382.38" fill="#000" stroke="#000" stroke-width="0.35" stroke-linejoin="round"/>
<polygon points="483.10,380.91 483.75,382.38 485.35,382.20 484.40,383.50 485.35,384.80 483.75,384.62 483.10,386.09 482.45,384.62 480.85,384.80 481.80,383.50 480.85,382.20 482.45,382.38" fill="#000" stroke="#000" stroke-width="0.35" stroke-linejoin="round"/>
<polygon points="489.85,380.91 490.50,382.38 492.10,382.20 491.15,383.50 492.10,384.80 490.50,384.62 489.85,386.09 489.20,384.62 487.60,384.80 488.55,383.50 487.60,382.20 489.20,382.38" fill="#000" stroke="#000" stroke-width="0.35" stroke-linejoin="round"/>
<path d="M441.20 417.00V411.00H483.10V417.00" stroke="#000" stroke-width="1.35" fill="none" />
<text x="462.20" y="406.40" font-size="8.0" text-anchor="middle" font-weight="normal" fill="#111" textLength="6.8" lengthAdjust="spacingAndGlyphs" >ns</text>
<path d="M525.00 412.00V406.00H566.70V412.00" stroke="#000" stroke-width="1.35" fill="none" />
<polygon points="542.80,396.51 543.45,397.98 545.05,397.80 544.10,399.10 545.05,400.40 543.45,400.22 542.80,401.69 542.15,400.22 540.55,400.40 541.50,399.10 540.55,397.80 542.15,397.98" fill="#000" stroke="#000" stroke-width="0.35" stroke-linejoin="round"/>
<polygon points="549.80,396.51 550.45,397.98 552.05,397.80 551.10,399.10 552.05,400.40 550.45,400.22 549.80,401.69 549.15,400.22 547.55,400.40 548.50,399.10 547.55,397.80 549.15,397.98" fill="#000" stroke="#000" stroke-width="0.35" stroke-linejoin="round"/>
<text x="382.00" y="582.40" font-size="14" text-anchor="start" font-weight="bold" fill="#000" stroke="#000" stroke-width="0.22" >F.</text>
<text x="504.20" y="582.70" font-size="10.2" text-anchor="middle" font-weight="bold" fill="#000" textLength="125.5" lengthAdjust="spacingAndGlyphs" stroke="#000" stroke-width="0.22" >Final Proteolytic Capacity</text>
<rect x="428.45" y="736.60" width="26.10" height="90.00" fill="#ff0000" stroke="#000" stroke-width="1.7"/>
<rect x="470.05" y="744.40" width="26.10" height="82.20" fill="#9b0000" stroke="#000" stroke-width="1.7"/>
<rect x="511.85" y="721.10" width="26.10" height="105.50" fill="#0000ff" stroke="#000" stroke-width="1.7"/>
<rect x="553.55" y="690.80" width="26.10" height="135.80" fill="#00007d" stroke="#000" stroke-width="1.7"/>
<line x1="441.50" y1="736.60" x2="441.50" y2="732.00" stroke="#000" stroke-width="1.0"/>
<line x1="437.90" y1="732.00" x2="445.10" y2="732.00" stroke="#000" stroke-width="1.0"/>
<line x1="483.10" y1="744.40" x2="483.10" y2="741.50" stroke="#000" stroke-width="1.0"/>
<line x1="479.50" y1="741.50" x2="486.70" y2="741.50" stroke="#000" stroke-width="1.0"/>
<line x1="524.90" y1="721.10" x2="524.90" y2="717.20" stroke="#000" stroke-width="1.0"/>
<line x1="521.30" y1="717.20" x2="528.50" y2="717.20" stroke="#000" stroke-width="1.0"/>
<line x1="566.60" y1="690.80" x2="566.60" y2="688.70" stroke="#000" stroke-width="1.0"/>
<line x1="563.00" y1="688.70" x2="570.20" y2="688.70" stroke="#000" stroke-width="1.0"/>
<circle cx="441.10" cy="725.50" r="1.95" fill="#fff" stroke="#000" stroke-width="1.1"/>
<circle cx="437.90" cy="734.30" r="1.95" fill="#fff" stroke="#000" stroke-width="1.1"/>
<circle cx="445.30" cy="732.90" r="1.95" fill="#fff" stroke="#000" stroke-width="1.1"/>
<circle cx="441.10" cy="740.00" r="1.95" fill="#fff" stroke="#000" stroke-width="1.1"/>
<circle cx="441.10" cy="747.40" r="1.95" fill="#fff" stroke="#000" stroke-width="1.1"/>
<circle cx="476.00" cy="741.10" r="1.95" fill="#fff" stroke="#000" stroke-width="1.1"/>
<circle cx="482.90" cy="739.70" r="1.95" fill="#fff" stroke="#000" stroke-width="1.1"/>
<circle cx="490.00" cy="743.10" r="1.95" fill="#fff" stroke="#000" stroke-width="1.1"/>
<circle cx="482.90" cy="746.20" r="1.95" fill="#fff" stroke="#000" stroke-width="1.1"/>
<circle cx="482.90" cy="749.70" r="1.95" fill="#fff" stroke="#000" stroke-width="1.1"/>
<circle cx="524.80" cy="710.20" r="1.95" fill="#fff" stroke="#000" stroke-width="1.1"/>
<circle cx="520.90" cy="719.60" r="1.95" fill="#fff" stroke="#000" stroke-width="1.1"/>
<circle cx="528.00" cy="719.20" r="1.95" fill="#fff" stroke="#000" stroke-width="1.1"/>
<circle cx="521.30" cy="727.40" r="1.95" fill="#fff" stroke="#000" stroke-width="1.1"/>
<circle cx="528.00" cy="725.80" r="1.95" fill="#fff" stroke="#000" stroke-width="1.1"/>
<circle cx="563.00" cy="685.60" r="1.95" fill="#fff" stroke="#000" stroke-width="1.1"/>
<circle cx="570.00" cy="686.90" r="1.95" fill="#fff" stroke="#000" stroke-width="1.1"/>
<circle cx="559.70" cy="694.10" r="1.95" fill="#fff" stroke="#000" stroke-width="1.1"/>
<circle cx="566.50" cy="693.00" r="1.95" fill="#fff" stroke="#000" stroke-width="1.1"/>
<circle cx="573.30" cy="693.50" r="1.95" fill="#fff" stroke="#000" stroke-width="1.1"/>
<line x1="414.00" y1="649.00" x2="414.00" y2="827.50" stroke="#000" stroke-width="1.8"/>
<line x1="413.10" y1="826.60" x2="595.00" y2="826.60" stroke="#000" stroke-width="1.8"/>
<line x1="408.50" y1="826.60" x2="414.00" y2="826.60" stroke="#000" stroke-width="1.6"/>
<text x="407.30" y="829.80" font-size="8.5" text-anchor="end" font-weight="bold" fill="#000" textLength="16.8" lengthAdjust="spacingAndGlyphs" stroke="#000" stroke-width="0.22" >1.10</text>
<line x1="408.50" y1="767.63" x2="414.00" y2="767.63" stroke="#000" stroke-width="1.6"/>
<text x="407.30" y="770.83" font-size="8.5" text-anchor="end" font-weight="bold" fill="#000" textLength="16.8" lengthAdjust="spacingAndGlyphs" stroke="#000" stroke-width="0.22" >1.12</text>
<line x1="408.50" y1="708.66" x2="414.00" y2="708.66" stroke="#000" stroke-width="1.6"/>
<text x="407.30" y="711.86" font-size="8.5" text-anchor="end" font-weight="bold" fill="#000" textLength="16.8" lengthAdjust="spacingAndGlyphs" stroke="#000" stroke-width="0.22" >1.14</text>
<line x1="408.50" y1="649.69" x2="414.00" y2="649.69" stroke="#000" stroke-width="1.6"/>
<text x="407.30" y="652.89" font-size="8.5" text-anchor="end" font-weight="bold" fill="#000" textLength="16.8" lengthAdjust="spacingAndGlyphs" stroke="#000" stroke-width="0.22" >1.16</text>
<line x1="411.00" y1="814.81" x2="414.00" y2="814.81" stroke="#000" stroke-width="1.4"/>
<line x1="411.00" y1="803.01" x2="414.00" y2="803.01" stroke="#000" stroke-width="1.4"/>
<line x1="411.00" y1="791.22" x2="414.00" y2="791.22" stroke="#000" stroke-width="1.4"/>
<line x1="411.00" y1="779.42" x2="414.00" y2="779.42" stroke="#000" stroke-width="1.4"/>
<line x1="411.00" y1="755.84" x2="414.00" y2="755.84" stroke="#000" stroke-width="1.4"/>
<line x1="411.00" y1="744.04" x2="414.00" y2="744.04" stroke="#000" stroke-width="1.4"/>
<line x1="411.00" y1="732.25" x2="414.00" y2="732.25" stroke="#000" stroke-width="1.4"/>
<line x1="411.00" y1="720.45" x2="414.00" y2="720.45" stroke="#000" stroke-width="1.4"/>
<line x1="411.00" y1="696.87" x2="414.00" y2="696.87" stroke="#000" stroke-width="1.4"/>
<line x1="411.00" y1="685.07" x2="414.00" y2="685.07" stroke="#000" stroke-width="1.4"/>
<line x1="411.00" y1="673.28" x2="414.00" y2="673.28" stroke="#000" stroke-width="1.4"/>
<line x1="411.00" y1="661.48" x2="414.00" y2="661.48" stroke="#000" stroke-width="1.4"/>
<line x1="441.50" y1="826.60" x2="441.50" y2="831.10" stroke="#000" stroke-width="1.6"/>
<line x1="483.10" y1="826.60" x2="483.10" y2="831.10" stroke="#000" stroke-width="1.6"/>
<line x1="524.90" y1="826.60" x2="524.90" y2="831.10" stroke="#000" stroke-width="1.6"/>
<line x1="566.60" y1="826.60" x2="566.60" y2="831.10" stroke="#000" stroke-width="1.6"/>
<text x="441.50" y="843.00" font-size="9.6" text-anchor="middle" font-weight="bold" fill="#000" textLength="25.6" lengthAdjust="spacingAndGlyphs" stroke="#000" stroke-width="0.22" >Adult</text>
<text x="483.10" y="843.00" font-size="9.6" text-anchor="middle" font-weight="bold" fill="#000" textLength="23.6" lengthAdjust="spacingAndGlyphs" stroke="#000" stroke-width="0.22" >Aged</text>
<text x="524.90" y="843.00" font-size="9.6" text-anchor="middle" font-weight="bold" fill="#000" textLength="25.6" lengthAdjust="spacingAndGlyphs" stroke="#000" stroke-width="0.22" >Adult</text>
<text x="566.60" y="843.00" font-size="9.6" text-anchor="middle" font-weight="bold" fill="#000" textLength="23.6" lengthAdjust="spacingAndGlyphs" stroke="#000" stroke-width="0.22" >Aged</text>
<line x1="424.00" y1="848.30" x2="496.90" y2="848.30" stroke="#333" stroke-width="1.5"/>
<line x1="507.40" y1="848.30" x2="580.40" y2="848.30" stroke="#333" stroke-width="1.5"/>
<text x="460.45" y="861.00" font-size="9.8" text-anchor="middle" font-weight="bold" fill="#000" textLength="23.5" lengthAdjust="spacingAndGlyphs" stroke="#000" stroke-width="0.22" >Male</text>
<text x="543.90" y="861.00" font-size="9.8" text-anchor="middle" font-weight="bold" fill="#000" textLength="33.6" lengthAdjust="spacingAndGlyphs" stroke="#000" stroke-width="0.22" >Female</text>
<text x="384.00" y="738.00" font-size="11.3" text-anchor="middle" font-weight="bold" fill="#000" textLength="91.5" lengthAdjust="spacingAndGlyphs" transform="rotate(-90 384.00 738.00)" stroke="#000" stroke-width="0.22" >Fluorescence (RU)</text>
<path d="M483.10 624.00V618.00H566.60V624.00" stroke="#000" stroke-width="1.35" fill="none" />
<polygon points="514.92,607.98 515.65,609.64 517.45,609.44 516.38,610.90 517.45,612.36 515.65,612.16 514.92,613.82 514.20,612.16 512.40,612.36 513.47,610.90 512.40,609.44 514.20,609.64" fill="#000" stroke="#000" stroke-width="0.35" stroke-linejoin="round"/>
<polygon points="522.07,607.98 522.80,609.64 524.60,609.44 523.53,610.90 524.60,612.36 522.80,612.16 522.07,613.82 521.35,612.16 519.55,612.36 520.62,610.90 519.55,609.44 521.35,609.64" fill="#000" stroke="#000" stroke-width="0.35" stroke-linejoin="round"/>
<polygon points="529.23,607.98 529.95,609.64 531.75,609.44 530.68,610.90 531.75,612.36 529.95,612.16 529.23,613.82 528.50,612.16 526.70,612.36 527.77,610.90 526.70,609.44 528.50,609.64" fill="#000" stroke="#000" stroke-width="0.35" stroke-linejoin="round"/>
<polygon points="536.38,607.98 537.10,609.64 538.90,609.44 537.83,610.90 538.90,612.36 537.10,612.16 536.38,613.82 535.65,612.16 533.85,612.36 534.92,610.90 533.85,609.44 535.65,609.64" fill="#000" stroke="#000" stroke-width="0.35" stroke-linejoin="round"/>
<path d="M441.50 645.90V639.90H524.90V645.90" stroke="#000" stroke-width="1.35" fill="none" />
<text x="483.00" y="634.68" font-size="9.2" text-anchor="middle" font-weight="normal" fill="#111" >ns</text>
<path d="M441.50 666.60V660.60H483.10V666.60" stroke="#000" stroke-width="1.35" fill="none" />
<text x="462.30" y="656.28" font-size="9.2" text-anchor="middle" font-weight="normal" fill="#111" >ns</text>
<path d="M524.90 667.00V661.00H566.60V667.00" stroke="#000" stroke-width="1.35" fill="none" />
<polygon points="539.35,651.34 540.01,652.85 541.65,652.67 540.68,654.00 541.65,655.33 540.01,655.15 539.35,656.66 538.69,655.15 537.05,655.33 538.02,654.00 537.05,652.67 538.69,652.85" fill="#000" stroke="#000" stroke-width="0.35" stroke-linejoin="round"/>
<polygon points="546.40,651.34 547.06,652.85 548.70,652.67 547.73,654.00 548.70,655.33 547.06,655.15 546.40,656.66 545.74,655.15 544.10,655.33 545.07,654.00 544.10,652.67 545.74,652.85" fill="#000" stroke="#000" stroke-width="0.35" stroke-linejoin="round"/>
<polygon points="553.45,651.34 554.11,652.85 555.75,652.67 554.78,654.00 555.75,655.33 554.11,655.15 553.45,656.66 552.79,655.15 551.15,655.33 552.12,654.00 551.15,652.67 552.79,652.85" fill="#000" stroke="#000" stroke-width="0.35" stroke-linejoin="round"/>
<text x="42.80" y="582.60" font-size="14" text-anchor="start" font-weight="bold" fill="#000" stroke="#000" stroke-width="0.22" >E.</text>
<text x="193.90" y="580.60" font-size="9.2" text-anchor="middle" font-weight="bold" fill="#000" textLength="115.6" lengthAdjust="spacingAndGlyphs" stroke="#000" stroke-width="0.22" >Lonp1 Proteolytic Activity</text>
<line x1="82.40" y1="592.50" x2="82.40" y2="845.00" stroke="#000" stroke-width="1.6"/>
<line x1="81.60" y1="841.80" x2="305.60" y2="841.80" stroke="#000" stroke-width="1.6"/>
<line x1="80.00" y1="836.90" x2="82.40" y2="836.90" stroke="#000" stroke-width="1.3"/>
<line x1="77.90" y1="827.70" x2="82.40" y2="827.70" stroke="#000" stroke-width="1.3"/>
<line x1="80.00" y1="818.50" x2="82.40" y2="818.50" stroke="#000" stroke-width="1.3"/>
<line x1="80.00" y1="809.30" x2="82.40" y2="809.30" stroke="#000" stroke-width="1.3"/>
<line x1="80.00" y1="800.10" x2="82.40" y2="800.10" stroke="#000" stroke-width="1.3"/>
<line x1="80.00" y1="790.90" x2="82.40" y2="790.90" stroke="#000" stroke-width="1.3"/>
<line x1="80.00" y1="781.70" x2="82.40" y2="781.70" stroke="#000" stroke-width="1.3"/>
<line x1="80.00" y1="772.50" x2="82.40" y2="772.50" stroke="#000" stroke-width="1.3"/>
<line x1="80.00" y1="763.30" x2="82.40" y2="763.30" stroke="#000" stroke-width="1.3"/>
<line x1="77.90" y1="754.10" x2="82.40" y2="754.10" stroke="#000" stroke-width="1.3"/>
<line x1="80.00" y1="744.90" x2="82.40" y2="744.90" stroke="#000" stroke-width="1.3"/>
<line x1="80.00" y1="735.70" x2="82.40" y2="735.70" stroke="#000" stroke-width="1.3"/>
<line x1="80.00" y1="726.50" x2="82.40" y2="726.50" stroke="#000" stroke-width="1.3"/>
<line x1="80.00" y1="717.30" x2="82.40" y2="717.30" stroke="#000" stroke-width="1.3"/>
<line x1="80.00" y1="708.10" x2="82.40" y2="708.10" stroke="#000" stroke-width="1.3"/>
<line x1="80.00" y1="698.90" x2="82.40" y2="698.90" stroke="#000" stroke-width="1.3"/>
<line x1="80.00" y1="689.70" x2="82.40" y2="689.70" stroke="#000" stroke-width="1.3"/>
<line x1="77.90" y1="680.50" x2="82.40" y2="680.50" stroke="#000" stroke-width="1.3"/>
<line x1="80.00" y1="671.30" x2="82.40" y2="671.30" stroke="#000" stroke-width="1.3"/>
<line x1="80.00" y1="662.10" x2="82.40" y2="662.10" stroke="#000" stroke-width="1.3"/>
<line x1="80.00" y1="652.90" x2="82.40" y2="652.90" stroke="#000" stroke-width="1.3"/>
<line x1="80.00" y1="643.70" x2="82.40" y2="643.70" stroke="#000" stroke-width="1.3"/>
<line x1="80.00" y1="634.50" x2="82.40" y2="634.50" stroke="#000" stroke-width="1.3"/>
<line x1="80.00" y1="625.30" x2="82.40" y2="625.30" stroke="#000" stroke-width="1.3"/>
<line x1="80.00" y1="616.10" x2="82.40" y2="616.10" stroke="#000" stroke-width="1.3"/>
<line x1="77.90" y1="606.90" x2="82.40" y2="606.90" stroke="#000" stroke-width="1.3"/>
<line x1="80.00" y1="597.70" x2="82.40" y2="597.70" stroke="#000" stroke-width="1.3"/>
<text x="77.60" y="831.60" font-size="8.2" text-anchor="end" font-weight="bold" fill="#000" textLength="15.2" lengthAdjust="spacingAndGlyphs" stroke="#000" stroke-width="0.22" >1.00</text>
<text x="77.60" y="758.00" font-size="8.2" text-anchor="end" font-weight="bold" fill="#000" textLength="15.2" lengthAdjust="spacingAndGlyphs" stroke="#000" stroke-width="0.22" >1.05</text>
<text x="77.60" y="684.40" font-size="8.2" text-anchor="end" font-weight="bold" fill="#000" textLength="15.2" lengthAdjust="spacingAndGlyphs" stroke="#000" stroke-width="0.22" >1.10</text>
<text x="77.60" y="610.80" font-size="8.2" text-anchor="end" font-weight="bold" fill="#000" textLength="15.2" lengthAdjust="spacingAndGlyphs" stroke="#000" stroke-width="0.22" >1.15</text>
<line x1="82.40" y1="841.80" x2="82.40" y2="845.40" stroke="#000" stroke-width="1.3"/>
<line x1="97.27" y1="841.80" x2="97.27" y2="843.80" stroke="#000" stroke-width="1.3"/>
<line x1="112.13" y1="841.80" x2="112.13" y2="843.80" stroke="#000" stroke-width="1.3"/>
<line x1="127.00" y1="841.80" x2="127.00" y2="843.80" stroke="#000" stroke-width="1.3"/>
<line x1="141.87" y1="841.80" x2="141.87" y2="843.80" stroke="#000" stroke-width="1.3"/>
<line x1="156.73" y1="841.80" x2="156.73" y2="845.40" stroke="#000" stroke-width="1.3"/>
<line x1="171.60" y1="841.80" x2="171.60" y2="843.80" stroke="#000" stroke-width="1.3"/>
<line x1="186.47" y1="841.80" x2="186.47" y2="843.80" stroke="#000" stroke-width="1.3"/>
<line x1="201.33" y1="841.80" x2="201.33" y2="843.80" stroke="#000" stroke-width="1.3"/>
<line x1="216.20" y1="841.80" x2="216.20" y2="843.80" stroke="#000" stroke-width="1.3"/>
<line x1="231.07" y1="841.80" x2="231.07" y2="845.40" stroke="#000" stroke-width="1.3"/>
<line x1="245.93" y1="841.80" x2="245.93" y2="843.80" stroke="#000" stroke-width="1.3"/>
<line x1="260.80" y1="841.80" x2="260.80" y2="843.80" stroke="#000" stroke-width="1.3"/>
<line x1="275.67" y1="841.80" x2="275.67" y2="843.80" stroke="#000" stroke-width="1.3"/>
<line x1="290.53" y1="841.80" x2="290.53" y2="843.80" stroke="#000" stroke-width="1.3"/>
<line x1="305.40" y1="841.80" x2="305.40" y2="845.40" stroke="#000" stroke-width="1.3"/>
<text x="82.40" y="853.90" font-size="8.0" text-anchor="middle" font-weight="bold" fill="#000" textLength="4.4" lengthAdjust="spacingAndGlyphs" stroke="#000" stroke-width="0.22" >0</text>
<text x="156.73" y="853.90" font-size="8.0" text-anchor="middle" font-weight="bold" fill="#000" textLength="8.8" lengthAdjust="spacingAndGlyphs" stroke="#000" stroke-width="0.22" >10</text>
<text x="231.07" y="853.90" font-size="8.0" text-anchor="middle" font-weight="bold" fill="#000" textLength="8.8" lengthAdjust="spacingAndGlyphs" stroke="#000" stroke-width="0.22" >20</text>
<text x="305.40" y="853.90" font-size="8.0" text-anchor="middle" font-weight="bold" fill="#000" textLength="8.8" lengthAdjust="spacingAndGlyphs" stroke="#000" stroke-width="0.22" >30</text>
<text x="193.70" y="867.70" font-size="10.0" text-anchor="middle" font-weight="bold" fill="#000" textLength="51.2" lengthAdjust="spacingAndGlyphs" stroke="#000" stroke-width="0.22" >Time (min)</text>
<text x="56.30" y="716.40" font-size="10.0" text-anchor="middle" font-weight="bold" fill="#000" textLength="83.0" lengthAdjust="spacingAndGlyphs" transform="rotate(-90 56.30 716.40)" stroke="#000" stroke-width="0.22" >Fluorescence (RU)</text>
<path d="M310.4 609.4H314.6V640.2H310.4" stroke="#000" stroke-width="1.2" fill="none" />
<polygon points="324.83,619.30 323.40,619.93 323.56,621.49 322.30,620.56 321.04,621.49 321.20,619.93 319.77,619.30 321.20,618.67 321.04,617.11 322.30,618.04 323.56,617.11 323.40,618.67" fill="#000" stroke="#000" stroke-width="0.35" stroke-linejoin="round"/>
<polygon points="324.83,625.20 323.40,625.83 323.56,627.39 322.30,626.46 321.04,627.39 321.20,625.83 319.77,625.20 321.20,624.57 321.04,623.01 322.30,623.94 323.56,623.01 323.40,624.57" fill="#000" stroke="#000" stroke-width="0.35" stroke-linejoin="round"/>
<polygon points="324.83,631.10 323.40,631.73 323.56,633.29 322.30,632.36 321.04,633.29 321.20,631.73 319.77,631.10 321.20,630.47 321.04,628.91 322.30,629.84 323.56,628.91 323.40,630.47" fill="#000" stroke="#000" stroke-width="0.35" stroke-linejoin="round"/>
<path d="M82.40 826.70 L84.63 822.81 L86.86 821.74 L89.09 814.66 L91.32 808.88 L93.55 805.42 L95.78 801.53 L98.01 801.66 L100.24 799.63 L102.47 800.08 L104.70 796.06 L106.93 793.44 L109.16 785.21 L111.39 779.72 L113.62 782.54 L115.85 779.68 L118.08 777.39 L120.31 769.99 L122.54 765.48 L124.77 763.94 L127.00 762.51 L129.23 761.91 L131.46 759.69 L133.69 759.21 L135.92 755.44 L138.15 755.69 L140.38 752.85 L142.61 747.74 L144.84 749.15 L147.07 744.44 L149.30 746.13 L151.53 740.66 L153.76 737.28 L155.99 734.89 L158.22 732.23 L160.45 730.97 L162.68 727.57 L164.91 723.58 L167.14 720.15 L169.37 718.78 L171.60 719.89 L173.83 713.83 L176.06 713.77 L178.29 712.08 L180.52 706.40 L182.75 707.41 L184.98 708.26 L187.21 700.41 L189.44 702.08 L191.67 701.35 L193.90 699.11 L196.13 700.71 L198.36 698.73 L200.59 694.31 L202.82 696.90 L205.05 694.84 L207.28 693.41 L209.51 692.09 L211.74 687.78 L213.97 685.06 L216.20 681.58 L218.43 684.77 L220.66 682.00 L222.89 681.71 L225.12 678.82 L227.35 678.05 L229.58 677.54 L231.81 679.25 L234.04 670.90 L236.27 669.96 L238.50 671.14 L240.73 671.39 L242.96 667.98 L245.19 661.94 L247.42 659.42 L249.65 663.55 L251.88 660.13 L254.11 658.07 L256.34 660.48 L258.57 659.15 L260.80 655.79 L263.03 654.39 L265.26 653.19 L267.49 654.34 L269.72 651.83 L271.95 650.97 L274.18 650.37 L276.41 645.68 L278.64 650.40 L280.87 648.89 L283.10 647.19 L285.33 641.54 L287.56 643.19 L289.79 645.10 L292.02 639.35 L294.25 641.78 L296.48 643.40 L298.71 638.31 L300.94 643.20 L303.17 640.53 L305.40 638.71" stroke="#9b0000" stroke-width="0.85" fill="none" stroke-linejoin="round"/>
<path d="M82.40 825.10L83.90 827.70L80.90 827.70Z" fill="none" stroke="#9b0000" stroke-width="0.75"/>
<path d="M84.63 821.21L86.13 823.81L83.13 823.81Z" fill="none" stroke="#9b0000" stroke-width="0.75"/>
<path d="M86.86 820.14L88.36 822.74L85.36 822.74Z" fill="none" stroke="#9b0000" stroke-width="0.75"/>
<path d="M89.09 813.06L90.59 815.66L87.59 815.66Z" fill="none" stroke="#9b0000" stroke-width="0.75"/>
<path d="M91.32 807.28L92.82 809.88L89.82 809.88Z" fill="none" stroke="#9b0000" stroke-width="0.75"/>
<path d="M93.55 803.82L95.05 806.42L92.05 806.42Z" fill="none" stroke="#9b0000" stroke-width="0.75"/>
<path d="M95.78 799.93L97.28 802.53L94.28 802.53Z" fill="none" stroke="#9b0000" stroke-width="0.75"/>
<path d="M98.01 800.06L99.51 802.66L96.51 802.66Z" fill="none" stroke="#9b0000" stroke-width="0.75"/>
<path d="M100.24 798.03L101.74 800.63L98.74 800.63Z" fill="none" stroke="#9b0000" stroke-width="0.75"/>
<path d="M102.47 798.48L103.97 801.08L100.97 801.08Z" fill="none" stroke="#9b0000" stroke-width="0.75"/>
<path d="M104.70 794.46L106.20 797.06L103.20 797.06Z" fill="none" stroke="#9b0000" stroke-width="0.75"/>
<path d="M106.93 791.84L108.43 794.44L105.43 794.44Z" fill="none" stroke="#9b0000" stroke-width="0.75"/>
<path d="M109.16 783.61L110.66 786.21L107.66 786.21Z" fill="none" stroke="#9b0000" stroke-width="0.75"/>
<path d="M111.39 778.12L112.89 780.72L109.89 780.72Z" fill="none" stroke="#9b0000" stroke-width="0.75"/>
<path d="M113.62 780.94L115.12 783.54L112.12 783.54Z" fill="none" stroke="#9b0000" stroke-width="0.75"/>
<path d="M115.85 778.08L117.35 780.68L114.35 780.68Z" fill="none" stroke="#9b0000" stroke-width="0.75"/>
<path d="M118.08 775.79L119.58 778.39L116.58 778.39Z" fill="none" stroke="#9b0000" stroke-width="0.75"/>
<path d="M120.31 768.39L121.81 770.99L118.81 770.99Z" fill="none" stroke="#9b0000" stroke-width="0.75"/>
<path d="M122.54 763.88L124.04 766.48L121.04 766.48Z" fill="none" stroke="#9b0000" stroke-width="0.75"/>
<path d="M124.77 762.34L126.27 764.94L123.27 764.94Z" fill="none" stroke="#9b0000" stroke-width="0.75"/>
<path d="M127.00 760.91L128.50 763.51L125.50 763.51Z" fill="none" stroke="#9b0000" stroke-width="0.75"/>
<path d="M129.23 760.31L130.73 762.91L127.73 762.91Z" fill="none" stroke="#9b0000" stroke-width="0.75"/>
<path d="M131.46 758.09L132.96 760.69L129.96 760.69Z" fill="none" stroke="#9b0000" stroke-width="0.75"/>
<path d="M133.69 757.61L135.19 760.21L132.19 760.21Z" fill="none" stroke="#9b0000" stroke-width="0.75"/>
<path d="M135.92 753.84L137.42 756.44L134.42 756.44Z" fill="none" stroke="#9b0000" stroke-width="0.75"/>
<path d="M138.15 754.09L139.65 756.69L136.65 756.69Z" fill="none" stroke="#9b0000" stroke-width="0.75"/>
<path d="M140.38 751.25L141.88 753.85L138.88 753.85Z" fill="none" stroke="#9b0000" stroke-width="0.75"/>
<path d="M142.61 746.14L144.11 748.74L141.11 748.74Z" fill="none" stroke="#9b0000" stroke-width="0.75"/>
<path d="M144.84 747.55L146.34 750.15L143.34 750.15Z" fill="none" stroke="#9b0000" stroke-width="0.75"/>
<path d="M147.07 742.84L148.57 745.44L145.57 745.44Z" fill="none" stroke="#9b0000" stroke-width="0.75"/>
<path d="M149.30 744.53L150.80 747.13L147.80 747.13Z" fill="none" stroke="#9b0000" stroke-width="0.75"/>
<path d="M151.53 739.06L153.03 741.66L150.03 741.66Z" fill="none" stroke="#9b0000" stroke-width="0.75"/>
<path d="M153.76 735.68L155.26 738.28L152.26 738.28Z" fill="none" stroke="#9b0000" stroke-width="0.75"/>
<path d="M155.99 733.29L157.49 735.89L154.49 735.89Z" fill="none" stroke="#9b0000" stroke-width="0.75"/>
<path d="M158.22 730.63L159.72 733.23L156.72 733.23Z" fill="none" stroke="#9b0000" stroke-width="0.75"/>
<path d="M160.45 729.37L161.95 731.97L158.95 731.97Z" fill="none" stroke="#9b0000" stroke-width="0.75"/>
<path d="M162.68 725.97L164.18 728.57L161.18 728.57Z" fill="none" stroke="#9b0000" stroke-width="0.75"/>
<path d="M164.91 721.98L166.41 724.58L163.41 724.58Z" fill="none" stroke="#9b0000" stroke-width="0.75"/>
<path d="M167.14 718.55L168.64 721.15L165.64 721.15Z" fill="none" stroke="#9b0000" stroke-width="0.75"/>
<path d="M169.37 717.18L170.87 719.78L167.87 719.78Z" fill="none" stroke="#9b0000" stroke-width="0.75"/>
<path d="M171.60 718.29L173.10 720.89L170.10 720.89Z" fill="none" stroke="#9b0000" stroke-width="0.75"/>
<path d="M173.83 712.23L175.33 714.83L172.33 714.83Z" fill="none" stroke="#9b0000" stroke-width="0.75"/>
<path d="M176.06 712.17L177.56 714.77L174.56 714.77Z" fill="none" stroke="#9b0000" stroke-width="0.75"/>
<path d="M178.29 710.48L179.79 713.08L176.79 713.08Z" fill="none" stroke="#9b0000" stroke-width="0.75"/>
<path d="M180.52 704.80L182.02 707.40L179.02 707.40Z" fill="none" stroke="#9b0000" stroke-width="0.75"/>
<path d="M182.75 705.81L184.25 708.41L181.25 708.41Z" fill="none" stroke="#9b0000" stroke-width="0.75"/>
<path d="M184.98 706.66L186.48 709.26L183.48 709.26Z" fill="none" stroke="#9b0000" stroke-width="0.75"/>
<path d="M187.21 698.81L188.71 701.41L185.71 701.41Z" fill="none" stroke="#9b0000" stroke-width="0.75"/>
<path d="M189.44 700.48L190.94 703.08L187.94 703.08Z" fill="none" stroke="#9b0000" stroke-width="0.75"/>
<path d="M191.67 699.75L193.17 702.35L190.17 702.35Z" fill="none" stroke="#9b0000" stroke-width="0.75"/>
<path d="M193.90 697.51L195.40 700.11L192.40 700.11Z" fill="none" stroke="#9b0000" stroke-width="0.75"/>
<path d="M196.13 699.11L197.63 701.71L194.63 701.71Z" fill="none" stroke="#9b0000" stroke-width="0.75"/>
<path d="M198.36 697.13L199.86 699.73L196.86 699.73Z" fill="none" stroke="#9b0000" stroke-width="0.75"/>
<path d="M200.59 692.71L202.09 695.31L199.09 695.31Z" fill="none" stroke="#9b0000" stroke-width="0.75"/>
<path d="M202.82 695.30L204.32 697.90L201.32 697.90Z" fill="none" stroke="#9b0000" stroke-width="0.75"/>
<path d="M205.05 693.24L206.55 695.84L203.55 695.84Z" fill="none" stroke="#9b0000" stroke-width="0.75"/>
<path d="M207.28 691.81L208.78 694.41L205.78 694.41Z" fill="none" stroke="#9b0000" stroke-width="0.75"/>
<path d="M209.51 690.49L211.01 693.09L208.01 693.09Z" fill="none" stroke="#9b0000" stroke-width="0.75"/>
<path d="M211.74 686.18L213.24 688.78L210.24 688.78Z" fill="none" stroke="#9b0000" stroke-width="0.75"/>
<path d="M213.97 683.46L215.47 686.06L212.47 686.06Z" fill="none" stroke="#9b0000" stroke-width="0.75"/>
<path d="M216.20 679.98L217.70 682.58L214.70 682.58Z" fill="none" stroke="#9b0000" stroke-width="0.75"/>
<path d="M218.43 683.17L219.93 685.77L216.93 685.77Z" fill="none" stroke="#9b0000" stroke-width="0.75"/>
<path d="M220.66 680.40L222.16 683.00L219.16 683.00Z" fill="none" stroke="#9b0000" stroke-width="0.75"/>
<path d="M222.89 680.11L224.39 682.71L221.39 682.71Z" fill="none" stroke="#9b0000" stroke-width="0.75"/>
<path d="M225.12 677.22L226.62 679.82L223.62 679.82Z" fill="none" stroke="#9b0000" stroke-width="0.75"/>
<path d="M227.35 676.45L228.85 679.05L225.85 679.05Z" fill="none" stroke="#9b0000" stroke-width="0.75"/>
<path d="M229.58 675.94L231.08 678.54L228.08 678.54Z" fill="none" stroke="#9b0000" stroke-width="0.75"/>
<path d="M231.81 677.65L233.31 680.25L230.31 680.25Z" fill="none" stroke="#9b0000" stroke-width="0.75"/>
<path d="M234.04 669.30L235.54 671.90L232.54 671.90Z" fill="none" stroke="#9b0000" stroke-width="0.75"/>
<path d="M236.27 668.36L237.77 670.96L234.77 670.96Z" fill="none" stroke="#9b0000" stroke-width="0.75"/>
<path d="M238.50 669.54L240.00 672.14L237.00 672.14Z" fill="none" stroke="#9b0000" stroke-width="0.75"/>
<path d="M240.73 669.79L242.23 672.39L239.23 672.39Z" fill="none" stroke="#9b0000" stroke-width="0.75"/>
<path d="M242.96 666.38L244.46 668.98L241.46 668.98Z" fill="none" stroke="#9b0000" stroke-width="0.75"/>
<path d="M245.19 660.34L246.69 662.94L243.69 662.94Z" fill="none" stroke="#9b0000" stroke-width="0.75"/>
<path d="M247.42 657.82L248.92 660.42L245.92 660.42Z" fill="none" stroke="#9b0000" stroke-width="0.75"/>
<path d="M249.65 661.95L251.15 664.55L248.15 664.55Z" fill="none" stroke="#9b0000" stroke-width="0.75"/>
<path d="M251.88 658.53L253.38 661.13L250.38 661.13Z" fill="none" stroke="#9b0000" stroke-width="0.75"/>
<path d="M254.11 656.47L255.61 659.07L252.61 659.07Z" fill="none" stroke="#9b0000" stroke-width="0.75"/>
<path d="M256.34 658.88L257.84 661.48L254.84 661.48Z" fill="none" stroke="#9b0000" stroke-width="0.75"/>
<path d="M258.57 657.55L260.07 660.15L257.07 660.15Z" fill="none" stroke="#9b0000" stroke-width="0.75"/>
<path d="M260.80 654.19L262.30 656.79L259.30 656.79Z" fill="none" stroke="#9b0000" stroke-width="0.75"/>
<path d="M263.03 652.79L264.53 655.39L261.53 655.39Z" fill="none" stroke="#9b0000" stroke-width="0.75"/>
<path d="M265.26 651.59L266.76 654.19L263.76 654.19Z" fill="none" stroke="#9b0000" stroke-width="0.75"/>
<path d="M267.49 652.74L268.99 655.34L265.99 655.34Z" fill="none" stroke="#9b0000" stroke-width="0.75"/>
<path d="M269.72 650.23L271.22 652.83L268.22 652.83Z" fill="none" stroke="#9b0000" stroke-width="0.75"/>
<path d="M271.95 649.37L273.45 651.97L270.45 651.97Z" fill="none" stroke="#9b0000" stroke-width="0.75"/>
<path d="M274.18 648.77L275.68 651.37L272.68 651.37Z" fill="none" stroke="#9b0000" stroke-width="0.75"/>
<path d="M276.41 644.08L277.91 646.68L274.91 646.68Z" fill="none" stroke="#9b0000" stroke-width="0.75"/>
<path d="M278.64 648.80L280.14 651.40L277.14 651.40Z" fill="none" stroke="#9b0000" stroke-width="0.75"/>
<path d="M280.87 647.29L282.37 649.89L279.37 649.89Z" fill="none" stroke="#9b0000" stroke-width="0.75"/>
<path d="M283.10 645.59L284.60 648.19L281.60 648.19Z" fill="none" stroke="#9b0000" stroke-width="0.75"/>
<path d="M285.33 639.94L286.83 642.54L283.83 642.54Z" fill="none" stroke="#9b0000" stroke-width="0.75"/>
<path d="M287.56 641.59L289.06 644.19L286.06 644.19Z" fill="none" stroke="#9b0000" stroke-width="0.75"/>
<path d="M289.79 643.50L291.29 646.10L288.29 646.10Z" fill="none" stroke="#9b0000" stroke-width="0.75"/>
<path d="M292.02 637.75L293.52 640.35L290.52 640.35Z" fill="none" stroke="#9b0000" stroke-width="0.75"/>
<path d="M294.25 640.18L295.75 642.78L292.75 642.78Z" fill="none" stroke="#9b0000" stroke-width="0.75"/>
<path d="M296.48 641.80L297.98 644.40L294.98 644.40Z" fill="none" stroke="#9b0000" stroke-width="0.75"/>
<path d="M298.71 636.71L300.21 639.31L297.21 639.31Z" fill="none" stroke="#9b0000" stroke-width="0.75"/>
<path d="M300.94 641.60L302.44 644.20L299.44 644.20Z" fill="none" stroke="#9b0000" stroke-width="0.75"/>
<path d="M303.17 638.93L304.67 641.53L301.67 641.53Z" fill="none" stroke="#9b0000" stroke-width="0.75"/>
<path d="M305.40 637.11L306.90 639.71L303.90 639.71Z" fill="none" stroke="#9b0000" stroke-width="0.75"/>
<path d="M82.40 826.70 L84.63 821.16 L86.86 812.98 L89.09 804.04 L91.32 799.27 L93.55 790.80 L95.78 787.72 L98.01 786.64 L100.24 783.46 L102.47 780.43 L104.70 774.84 L106.93 770.36 L109.16 764.68 L111.39 762.23 L113.62 760.08 L115.85 755.74 L118.08 753.30 L120.31 753.46 L122.54 748.04 L124.77 749.44 L127.00 743.24 L129.23 738.39 L131.46 738.24 L133.69 736.80 L135.92 734.28 L138.15 731.43 L140.38 729.14 L142.61 727.17 L144.84 725.77 L147.07 722.39 L149.30 719.04 L151.53 717.44 L153.76 715.52 L155.99 715.47 L158.22 714.08 L160.45 715.01 L162.68 711.54 L164.91 709.39 L167.14 707.53 L169.37 705.14 L171.60 703.56 L173.83 698.91 L176.06 698.32 L178.29 699.02 L180.52 691.52 L182.75 692.09 L184.98 692.21 L187.21 690.64 L189.44 688.62 L191.67 686.45 L193.90 687.08 L196.13 685.66 L198.36 683.62 L200.59 685.99 L202.82 681.33 L205.05 678.29 L207.28 677.32 L209.51 675.78 L211.74 674.64 L213.97 669.54 L216.20 671.35 L218.43 672.12 L220.66 667.75 L222.89 667.97 L225.12 668.06 L227.35 666.59 L229.58 666.14 L231.81 660.61 L234.04 661.63 L236.27 660.78 L238.50 661.27 L240.73 661.06 L242.96 654.89 L245.19 659.26 L247.42 654.80 L249.65 656.87 L251.88 652.92 L254.11 654.34 L256.34 654.66 L258.57 651.67 L260.80 651.05 L263.03 650.79 L265.26 648.76 L267.49 647.72 L269.72 649.55 L271.95 648.43 L274.18 646.11 L276.41 649.92 L278.64 643.92 L280.87 645.67 L283.10 642.89 L285.33 642.31 L287.56 641.98 L289.79 640.17 L292.02 639.50 L294.25 635.17 L296.48 633.91 L298.71 635.59 L300.94 632.09 L303.17 630.71 L305.40 629.14" stroke="#ff0000" stroke-width="0.85" fill="none" stroke-linejoin="round"/>
<circle cx="82.40" cy="826.70" r="1.45" fill="#ff0000"/>
<circle cx="84.63" cy="821.16" r="1.45" fill="#ff0000"/>
<circle cx="86.86" cy="812.98" r="1.45" fill="#ff0000"/>
<circle cx="89.09" cy="804.04" r="1.45" fill="#ff0000"/>
<circle cx="91.32" cy="799.27" r="1.45" fill="#ff0000"/>
<circle cx="93.55" cy="790.80" r="1.45" fill="#ff0000"/>
<circle cx="95.78" cy="787.72" r="1.45" fill="#ff0000"/>
<circle cx="98.01" cy="786.64" r="1.45" fill="#ff0000"/>
<circle cx="100.24" cy="783.46" r="1.45" fill="#ff0000"/>
<circle cx="102.47" cy="780.43" r="1.45" fill="#ff0000"/>
<circle cx="104.70" cy="774.84" r="1.45" fill="#ff0000"/>
<circle cx="106.93" cy="770.36" r="1.45" fill="#ff0000"/>
<circle cx="109.16" cy="764.68" r="1.45" fill="#ff0000"/>
<circle cx="111.39" cy="762.23" r="1.45" fill="#ff0000"/>
<circle cx="113.62" cy="760.08" r="1.45" fill="#ff0000"/>
<circle cx="115.85" cy="755.74" r="1.45" fill="#ff0000"/>
<circle cx="118.08" cy="753.30" r="1.45" fill="#ff0000"/>
<circle cx="120.31" cy="753.46" r="1.45" fill="#ff0000"/>
<circle cx="122.54" cy="748.04" r="1.45" fill="#ff0000"/>
<circle cx="124.77" cy="749.44" r="1.45" fill="#ff0000"/>
<circle cx="127.00" cy="743.24" r="1.45" fill="#ff0000"/>
<circle cx="129.23" cy="738.39" r="1.45" fill="#ff0000"/>
<circle cx="131.46" cy="738.24" r="1.45" fill="#ff0000"/>
<circle cx="133.69" cy="736.80" r="1.45" fill="#ff0000"/>
<circle cx="135.92" cy="734.28" r="1.45" fill="#ff0000"/>
<circle cx="138.15" cy="731.43" r="1.45" fill="#ff0000"/>
<circle cx="140.38" cy="729.14" r="1.45" fill="#ff0000"/>
<circle cx="142.61" cy="727.17" r="1.45" fill="#ff0000"/>
<circle cx="144.84" cy="725.77" r="1.45" fill="#ff0000"/>
<circle cx="147.07" cy="722.39" r="1.45" fill="#ff0000"/>
<circle cx="149.30" cy="719.04" r="1.45" fill="#ff0000"/>
<circle cx="151.53" cy="717.44" r="1.45" fill="#ff0000"/>
<circle cx="153.76" cy="715.52" r="1.45" fill="#ff0000"/>
<circle cx="155.99" cy="715.47" r="1.45" fill="#ff0000"/>
<circle cx="158.22" cy="714.08" r="1.45" fill="#ff0000"/>
<circle cx="160.45" cy="715.01" r="1.45" fill="#ff0000"/>
<circle cx="162.68" cy="711.54" r="1.45" fill="#ff0000"/>
<circle cx="164.91" cy="709.39" r="1.45" fill="#ff0000"/>
<circle cx="167.14" cy="707.53" r="1.45" fill="#ff0000"/>
<circle cx="169.37" cy="705.14" r="1.45" fill="#ff0000"/>
<circle cx="171.60" cy="703.56" r="1.45" fill="#ff0000"/>
<circle cx="173.83" cy="698.91" r="1.45" fill="#ff0000"/>
<circle cx="176.06" cy="698.32" r="1.45" fill="#ff0000"/>
<circle cx="178.29" cy="699.02" r="1.45" fill="#ff0000"/>
<circle cx="180.52" cy="691.52" r="1.45" fill="#ff0000"/>
<circle cx="182.75" cy="692.09" r="1.45" fill="#ff0000"/>
<circle cx="184.98" cy="692.21" r="1.45" fill="#ff0000"/>
<circle cx="187.21" cy="690.64" r="1.45" fill="#ff0000"/>
<circle cx="189.44" cy="688.62" r="1.45" fill="#ff0000"/>
<circle cx="191.67" cy="686.45" r="1.45" fill="#ff0000"/>
<circle cx="193.90" cy="687.08" r="1.45" fill="#ff0000"/>
<circle cx="196.13" cy="685.66" r="1.45" fill="#ff0000"/>
<circle cx="198.36" cy="683.62" r="1.45" fill="#ff0000"/>
<circle cx="200.59" cy="685.99" r="1.45" fill="#ff0000"/>
<circle cx="202.82" cy="681.33" r="1.45" fill="#ff0000"/>
<circle cx="205.05" cy="678.29" r="1.45" fill="#ff0000"/>
<circle cx="207.28" cy="677.32" r="1.45" fill="#ff0000"/>
<circle cx="209.51" cy="675.78" r="1.45" fill="#ff0000"/>
<circle cx="211.74" cy="674.64" r="1.45" fill="#ff0000"/>
<circle cx="213.97" cy="669.54" r="1.45" fill="#ff0000"/>
<circle cx="216.20" cy="671.35" r="1.45" fill="#ff0000"/>
<circle cx="218.43" cy="672.12" r="1.45" fill="#ff0000"/>
<circle cx="220.66" cy="667.75" r="1.45" fill="#ff0000"/>
<circle cx="222.89" cy="667.97" r="1.45" fill="#ff0000"/>
<circle cx="225.12" cy="668.06" r="1.45" fill="#ff0000"/>
<circle cx="227.35" cy="666.59" r="1.45" fill="#ff0000"/>
<circle cx="229.58" cy="666.14" r="1.45" fill="#ff0000"/>
<circle cx="231.81" cy="660.61" r="1.45" fill="#ff0000"/>
<circle cx="234.04" cy="661.63" r="1.45" fill="#ff0000"/>
<circle cx="236.27" cy="660.78" r="1.45" fill="#ff0000"/>
<circle cx="238.50" cy="661.27" r="1.45" fill="#ff0000"/>
<circle cx="240.73" cy="661.06" r="1.45" fill="#ff0000"/>
<circle cx="242.96" cy="654.89" r="1.45" fill="#ff0000"/>
<circle cx="245.19" cy="659.26" r="1.45" fill="#ff0000"/>
<circle cx="247.42" cy="654.80" r="1.45" fill="#ff0000"/>
<circle cx="249.65" cy="656.87" r="1.45" fill="#ff0000"/>
<circle cx="251.88" cy="652.92" r="1.45" fill="#ff0000"/>
<circle cx="254.11" cy="654.34" r="1.45" fill="#ff0000"/>
<circle cx="256.34" cy="654.66" r="1.45" fill="#ff0000"/>
<circle cx="258.57" cy="651.67" r="1.45" fill="#ff0000"/>
<circle cx="260.80" cy="651.05" r="1.45" fill="#ff0000"/>
<circle cx="263.03" cy="650.79" r="1.45" fill="#ff0000"/>
<circle cx="265.26" cy="648.76" r="1.45" fill="#ff0000"/>
<circle cx="267.49" cy="647.72" r="1.45" fill="#ff0000"/>
<circle cx="269.72" cy="649.55" r="1.45" fill="#ff0000"/>
<circle cx="271.95" cy="648.43" r="1.45" fill="#ff0000"/>
<circle cx="274.18" cy="646.11" r="1.45" fill="#ff0000"/>
<circle cx="276.41" cy="649.92" r="1.45" fill="#ff0000"/>
<circle cx="278.64" cy="643.92" r="1.45" fill="#ff0000"/>
<circle cx="280.87" cy="645.67" r="1.45" fill="#ff0000"/>
<circle cx="283.10" cy="642.89" r="1.45" fill="#ff0000"/>
<circle cx="285.33" cy="642.31" r="1.45" fill="#ff0000"/>
<circle cx="287.56" cy="641.98" r="1.45" fill="#ff0000"/>
<circle cx="289.79" cy="640.17" r="1.45" fill="#ff0000"/>
<circle cx="292.02" cy="639.50" r="1.45" fill="#ff0000"/>
<circle cx="294.25" cy="635.17" r="1.45" fill="#ff0000"/>
<circle cx="296.48" cy="633.91" r="1.45" fill="#ff0000"/>
<circle cx="298.71" cy="635.59" r="1.45" fill="#ff0000"/>
<circle cx="300.94" cy="632.09" r="1.45" fill="#ff0000"/>
<circle cx="303.17" cy="630.71" r="1.45" fill="#ff0000"/>
<circle cx="305.40" cy="629.14" r="1.45" fill="#ff0000"/>
<path d="M82.40 826.70 L84.63 820.04 L86.86 812.37 L89.09 803.80 L91.32 796.99 L93.55 794.73 L95.78 785.88 L98.01 783.29 L100.24 780.90 L102.47 773.65 L104.70 772.07 L106.93 765.93 L109.16 760.17 L111.39 753.72 L113.62 753.80 L115.85 748.64 L118.08 746.16 L120.31 745.49 L122.54 743.73 L124.77 743.35 L127.00 736.94 L129.23 735.32 L131.46 732.23 L133.69 729.04 L135.92 723.94 L138.15 720.12 L140.38 720.34 L142.61 717.45 L144.84 715.65 L147.07 715.19 L149.30 710.06 L151.53 705.25 L153.76 705.50 L155.99 701.71 L158.22 702.87 L160.45 700.06 L162.68 696.74 L164.91 695.26 L167.14 694.37 L169.37 691.89 L171.60 691.82 L173.83 688.59 L176.06 688.35 L178.29 687.33 L180.52 685.91 L182.75 681.61 L184.98 681.93 L187.21 677.09 L189.44 676.49 L191.67 674.14 L193.90 676.64 L196.13 672.73 L198.36 673.04 L200.59 671.06 L202.82 669.49 L205.05 667.06 L207.28 666.54 L209.51 667.29 L211.74 664.08 L213.97 663.55 L216.20 662.99 L218.43 660.42 L220.66 658.02 L222.89 657.74 L225.12 658.58 L227.35 654.20 L229.58 654.34 L231.81 655.07 L234.04 653.57 L236.27 651.38 L238.50 651.08 L240.73 649.07 L242.96 646.38 L245.19 645.14 L247.42 645.47 L249.65 646.56 L251.88 644.00 L254.11 642.81 L256.34 642.18 L258.57 640.47 L260.80 641.38 L263.03 639.31 L265.26 640.37 L267.49 636.26 L269.72 638.60 L271.95 636.55 L274.18 634.10 L276.41 636.42 L278.64 634.30 L280.87 630.84 L283.10 631.35 L285.33 631.63 L287.56 629.62 L289.79 629.99 L292.02 629.13 L294.25 628.29 L296.48 627.15 L298.71 627.62 L300.94 626.07 L303.17 625.08 L305.40 621.50" stroke="#0000ff" stroke-width="0.85" fill="none" stroke-linejoin="round"/>
<rect x="81.05" y="825.35" width="2.7" height="2.7" fill="#0000ff"/>
<rect x="83.28" y="818.69" width="2.7" height="2.7" fill="#0000ff"/>
<rect x="85.51" y="811.02" width="2.7" height="2.7" fill="#0000ff"/>
<rect x="87.74" y="802.45" width="2.7" height="2.7" fill="#0000ff"/>
<rect x="89.97" y="795.64" width="2.7" height="2.7" fill="#0000ff"/>
<rect x="92.20" y="793.38" width="2.7" height="2.7" fill="#0000ff"/>
<rect x="94.43" y="784.53" width="2.7" height="2.7" fill="#0000ff"/>
<rect x="96.66" y="781.94" width="2.7" height="2.7" fill="#0000ff"/>
<rect x="98.89" y="779.55" width="2.7" height="2.7" fill="#0000ff"/>
<rect x="101.12" y="772.30" width="2.7" height="2.7" fill="#0000ff"/>
<rect x="103.35" y="770.72" width="2.7" height="2.7" fill="#0000ff"/>
<rect x="105.58" y="764.58" width="2.7" height="2.7" fill="#0000ff"/>
<rect x="107.81" y="758.82" width="2.7" height="2.7" fill="#0000ff"/>
<rect x="110.04" y="752.37" width="2.7" height="2.7" fill="#0000ff"/>
<rect x="112.27" y="752.45" width="2.7" height="2.7" fill="#0000ff"/>
<rect x="114.50" y="747.29" width="2.7" height="2.7" fill="#0000ff"/>
<rect x="116.73" y="744.81" width="2.7" height="2.7" fill="#0000ff"/>
<rect x="118.96" y="744.14" width="2.7" height="2.7" fill="#0000ff"/>
<rect x="121.19" y="742.38" width="2.7" height="2.7" fill="#0000ff"/>
<rect x="123.42" y="742.00" width="2.7" height="2.7" fill="#0000ff"/>
<rect x="125.65" y="735.59" width="2.7" height="2.7" fill="#0000ff"/>
<rect x="127.88" y="733.97" width="2.7" height="2.7" fill="#0000ff"/>
<rect x="130.11" y="730.88" width="2.7" height="2.7" fill="#0000ff"/>
<rect x="132.34" y="727.69" width="2.7" height="2.7" fill="#0000ff"/>
<rect x="134.57" y="722.59" width="2.7" height="2.7" fill="#0000ff"/>
<rect x="136.80" y="718.77" width="2.7" height="2.7" fill="#0000ff"/>
<rect x="139.03" y="718.99" width="2.7" height="2.7" fill="#0000ff"/>
<rect x="141.26" y="716.10" width="2.7" height="2.7" fill="#0000ff"/>
<rect x="143.49" y="714.30" width="2.7" height="2.7" fill="#0000ff"/>
<rect x="145.72" y="713.84" width="2.7" height="2.7" fill="#0000ff"/>
<rect x="147.95" y="708.71" width="2.7" height="2.7" fill="#0000ff"/>
<rect x="150.18" y="703.90" width="2.7" height="2.7" fill="#0000ff"/>
<rect x="152.41" y="704.15" width="2.7" height="2.7" fill="#0000ff"/>
<rect x="154.64" y="700.36" width="2.7" height="2.7" fill="#0000ff"/>
<rect x="156.87" y="701.52" width="2.7" height="2.7" fill="#0000ff"/>
<rect x="159.10" y="698.71" width="2.7" height="2.7" fill="#0000ff"/>
<rect x="161.33" y="695.39" width="2.7" height="2.7" fill="#0000ff"/>
<rect x="163.56" y="693.91" width="2.7" height="2.7" fill="#0000ff"/>
<rect x="165.79" y="693.02" width="2.7" height="2.7" fill="#0000ff"/>
<rect x="168.02" y="690.54" width="2.7" height="2.7" fill="#0000ff"/>
<rect x="170.25" y="690.47" width="2.7" height="2.7" fill="#0000ff"/>
<rect x="172.48" y="687.24" width="2.7" height="2.7" fill="#0000ff"/>
<rect x="174.71" y="687.00" width="2.7" height="2.7" fill="#0000ff"/>
<rect x="176.94" y="685.98" width="2.7" height="2.7" fill="#0000ff"/>
<rect x="179.17" y="684.56" width="2.7" height="2.7" fill="#0000ff"/>
<rect x="181.40" y="680.26" width="2.7" height="2.7" fill="#0000ff"/>
<rect x="183.63" y="680.58" width="2.7" height="2.7" fill="#0000ff"/>
<rect x="185.86" y="675.74" width="2.7" height="2.7" fill="#0000ff"/>
<rect x="188.09" y="675.14" width="2.7" height="2.7" fill="#0000ff"/>
<rect x="190.32" y="672.79" width="2.7" height="2.7" fill="#0000ff"/>
<rect x="192.55" y="675.29" width="2.7" height="2.7" fill="#0000ff"/>
<rect x="194.78" y="671.38" width="2.7" height="2.7" fill="#0000ff"/>
<rect x="197.01" y="671.69" width="2.7" height="2.7" fill="#0000ff"/>
<rect x="199.24" y="669.71" width="2.7" height="2.7" fill="#0000ff"/>
<rect x="201.47" y="668.14" width="2.7" height="2.7" fill="#0000ff"/>
<rect x="203.70" y="665.71" width="2.7" height="2.7" fill="#0000ff"/>
<rect x="205.93" y="665.19" width="2.7" height="2.7" fill="#0000ff"/>
<rect x="208.16" y="665.94" width="2.7" height="2.7" fill="#0000ff"/>
<rect x="210.39" y="662.73" width="2.7" height="2.7" fill="#0000ff"/>
<rect x="212.62" y="662.20" width="2.7" height="2.7" fill="#0000ff"/>
<rect x="214.85" y="661.64" width="2.7" height="2.7" fill="#0000ff"/>
<rect x="217.08" y="659.07" width="2.7" height="2.7" fill="#0000ff"/>
<rect x="219.31" y="656.67" width="2.7" height="2.7" fill="#0000ff"/>
<rect x="221.54" y="656.39" width="2.7" height="2.7" fill="#0000ff"/>
<rect x="223.77" y="657.23" width="2.7" height="2.7" fill="#0000ff"/>
<rect x="226.00" y="652.85" width="2.7" height="2.7" fill="#0000ff"/>
<rect x="228.23" y="652.99" width="2.7" height="2.7" fill="#0000ff"/>
<rect x="230.46" y="653.72" width="2.7" height="2.7" fill="#0000ff"/>
<rect x="232.69" y="652.22" width="2.7" height="2.7" fill="#0000ff"/>
<rect x="234.92" y="650.03" width="2.7" height="2.7" fill="#0000ff"/>
<rect x="237.15" y="649.73" width="2.7" height="2.7" fill="#0000ff"/>
<rect x="239.38" y="647.72" width="2.7" height="2.7" fill="#0000ff"/>
<rect x="241.61" y="645.03" width="2.7" height="2.7" fill="#0000ff"/>
<rect x="243.84" y="643.79" width="2.7" height="2.7" fill="#0000ff"/>
<rect x="246.07" y="644.12" width="2.7" height="2.7" fill="#0000ff"/>
<rect x="248.30" y="645.21" width="2.7" height="2.7" fill="#0000ff"/>
<rect x="250.53" y="642.65" width="2.7" height="2.7" fill="#0000ff"/>
<rect x="252.76" y="641.46" width="2.7" height="2.7" fill="#0000ff"/>
<rect x="254.99" y="640.83" width="2.7" height="2.7" fill="#0000ff"/>
<rect x="257.22" y="639.12" width="2.7" height="2.7" fill="#0000ff"/>
<rect x="259.45" y="640.03" width="2.7" height="2.7" fill="#0000ff"/>
<rect x="261.68" y="637.96" width="2.7" height="2.7" fill="#0000ff"/>
<rect x="263.91" y="639.02" width="2.7" height="2.7" fill="#0000ff"/>
<rect x="266.14" y="634.91" width="2.7" height="2.7" fill="#0000ff"/>
<rect x="268.37" y="637.25" width="2.7" height="2.7" fill="#0000ff"/>
<rect x="270.60" y="635.20" width="2.7" height="2.7" fill="#0000ff"/>
<rect x="272.83" y="632.75" width="2.7" height="2.7" fill="#0000ff"/>
<rect x="275.06" y="635.07" width="2.7" height="2.7" fill="#0000ff"/>
<rect x="277.29" y="632.95" width="2.7" height="2.7" fill="#0000ff"/>
<rect x="279.52" y="629.49" width="2.7" height="2.7" fill="#0000ff"/>
<rect x="281.75" y="630.00" width="2.7" height="2.7" fill="#0000ff"/>
<rect x="283.98" y="630.28" width="2.7" height="2.7" fill="#0000ff"/>
<rect x="286.21" y="628.27" width="2.7" height="2.7" fill="#0000ff"/>
<rect x="288.44" y="628.64" width="2.7" height="2.7" fill="#0000ff"/>
<rect x="290.67" y="627.78" width="2.7" height="2.7" fill="#0000ff"/>
<rect x="292.90" y="626.94" width="2.7" height="2.7" fill="#0000ff"/>
<rect x="295.13" y="625.80" width="2.7" height="2.7" fill="#0000ff"/>
<rect x="297.36" y="626.27" width="2.7" height="2.7" fill="#0000ff"/>
<rect x="299.59" y="624.72" width="2.7" height="2.7" fill="#0000ff"/>
<rect x="301.82" y="623.73" width="2.7" height="2.7" fill="#0000ff"/>
<rect x="304.05" y="620.15" width="2.7" height="2.7" fill="#0000ff"/>
<path d="M82.40 826.70 L84.63 816.51 L86.86 803.84 L89.09 789.84 L91.32 781.60 L93.55 781.87 L95.78 770.00 L98.01 768.35 L100.24 767.44 L102.47 759.11 L104.70 757.73 L106.93 755.39 L109.16 748.55 L111.39 746.06 L113.62 743.45 L115.85 737.90 L118.08 736.20 L120.31 733.88 L122.54 731.67 L124.77 727.32 L127.00 723.96 L129.23 719.66 L131.46 717.74 L133.69 716.80 L135.92 713.01 L138.15 708.99 L140.38 706.96 L142.61 709.89 L144.84 705.76 L147.07 703.08 L149.30 696.66 L151.53 698.56 L153.76 695.44 L155.99 694.20 L158.22 689.58 L160.45 686.69 L162.68 685.31 L164.91 679.65 L167.14 681.81 L169.37 679.03 L171.60 675.80 L173.83 676.85 L176.06 676.12 L178.29 670.28 L180.52 669.98 L182.75 669.82 L184.98 667.69 L187.21 664.89 L189.44 662.10 L191.67 664.97 L193.90 662.31 L196.13 658.04 L198.36 656.68 L200.59 659.40 L202.82 656.86 L205.05 656.48 L207.28 653.69 L209.51 650.22 L211.74 650.69 L213.97 646.19 L216.20 647.24 L218.43 647.33 L220.66 647.26 L222.89 644.50 L225.12 643.76 L227.35 642.99 L229.58 641.28 L231.81 640.26 L234.04 638.41 L236.27 636.41 L238.50 636.72 L240.73 634.44 L242.96 632.27 L245.19 632.11 L247.42 632.54 L249.65 631.94 L251.88 631.86 L254.11 631.19 L256.34 630.11 L258.57 628.35 L260.80 625.45 L263.03 626.48 L265.26 626.03 L267.49 624.02 L269.72 622.14 L271.95 622.01 L274.18 619.02 L276.41 616.70 L278.64 618.43 L280.87 616.04 L283.10 617.38 L285.33 613.82 L287.56 610.65 L289.79 611.87 L292.02 615.02 L294.25 611.91 L296.48 610.16 L298.71 610.64 L300.94 612.07 L303.17 611.67 L305.40 610.95" stroke="#00007d" stroke-width="0.85" fill="none" stroke-linejoin="round"/>
<path d="M82.40 828.30L84.00 825.60L80.80 825.60Z" fill="none" stroke="#00007d" stroke-width="0.8"/>
<path d="M84.63 818.11L86.23 815.41L83.03 815.41Z" fill="none" stroke="#00007d" stroke-width="0.8"/>
<path d="M86.86 805.44L88.46 802.74L85.26 802.74Z" fill="none" stroke="#00007d" stroke-width="0.8"/>
<path d="M89.09 791.44L90.69 788.74L87.49 788.74Z" fill="none" stroke="#00007d" stroke-width="0.8"/>
<path d="M91.32 783.20L92.92 780.50L89.72 780.50Z" fill="none" stroke="#00007d" stroke-width="0.8"/>
<path d="M93.55 783.47L95.15 780.77L91.95 780.77Z" fill="none" stroke="#00007d" stroke-width="0.8"/>
<path d="M95.78 771.60L97.38 768.90L94.18 768.90Z" fill="none" stroke="#00007d" stroke-width="0.8"/>
<path d="M98.01 769.95L99.61 767.25L96.41 767.25Z" fill="none" stroke="#00007d" stroke-width="0.8"/>
<path d="M100.24 769.04L101.84 766.34L98.64 766.34Z" fill="none" stroke="#00007d" stroke-width="0.8"/>
<path d="M102.47 760.71L104.07 758.01L100.87 758.01Z" fill="none" stroke="#00007d" stroke-width="0.8"/>
<path d="M104.70 759.33L106.30 756.63L103.10 756.63Z" fill="none" stroke="#00007d" stroke-width="0.8"/>
<path d="M106.93 756.99L108.53 754.29L105.33 754.29Z" fill="none" stroke="#00007d" stroke-width="0.8"/>
<path d="M109.16 750.15L110.76 747.45L107.56 747.45Z" fill="none" stroke="#00007d" stroke-width="0.8"/>
<path d="M111.39 747.66L112.99 744.96L109.79 744.96Z" fill="none" stroke="#00007d" stroke-width="0.8"/>
<path d="M113.62 745.05L115.22 742.35L112.02 742.35Z" fill="none" stroke="#00007d" stroke-width="0.8"/>
<path d="M115.85 739.50L117.45 736.80L114.25 736.80Z" fill="none" stroke="#00007d" stroke-width="0.8"/>
<path d="M118.08 737.80L119.68 735.10L116.48 735.10Z" fill="none" stroke="#00007d" stroke-width="0.8"/>
<path d="M120.31 735.48L121.91 732.78L118.71 732.78Z" fill="none" stroke="#00007d" stroke-width="0.8"/>
<path d="M122.54 733.27L124.14 730.57L120.94 730.57Z" fill="none" stroke="#00007d" stroke-width="0.8"/>
<path d="M124.77 728.92L126.37 726.22L123.17 726.22Z" fill="none" stroke="#00007d" stroke-width="0.8"/>
<path d="M127.00 725.56L128.60 722.86L125.40 722.86Z" fill="none" stroke="#00007d" stroke-width="0.8"/>
<path d="M129.23 721.26L130.83 718.56L127.63 718.56Z" fill="none" stroke="#00007d" stroke-width="0.8"/>
<path d="M131.46 719.34L133.06 716.64L129.86 716.64Z" fill="none" stroke="#00007d" stroke-width="0.8"/>
<path d="M133.69 718.40L135.29 715.70L132.09 715.70Z" fill="none" stroke="#00007d" stroke-width="0.8"/>
<path d="M135.92 714.61L137.52 711.91L134.32 711.91Z" fill="none" stroke="#00007d" stroke-width="0.8"/>
<path d="M138.15 710.59L139.75 707.89L136.55 707.89Z" fill="none" stroke="#00007d" stroke-width="0.8"/>
<path d="M140.38 708.56L141.98 705.86L138.78 705.86Z" fill="none" stroke="#00007d" stroke-width="0.8"/>
<path d="M142.61 711.49L144.21 708.79L141.01 708.79Z" fill="none" stroke="#00007d" stroke-width="0.8"/>
<path d="M144.84 707.36L146.44 704.66L143.24 704.66Z" fill="none" stroke="#00007d" stroke-width="0.8"/>
<path d="M147.07 704.68L148.67 701.98L145.47 701.98Z" fill="none" stroke="#00007d" stroke-width="0.8"/>
<path d="M149.30 698.26L150.90 695.56L147.70 695.56Z" fill="none" stroke="#00007d" stroke-width="0.8"/>
<path d="M151.53 700.16L153.13 697.46L149.93 697.46Z" fill="none" stroke="#00007d" stroke-width="0.8"/>
<path d="M153.76 697.04L155.36 694.34L152.16 694.34Z" fill="none" stroke="#00007d" stroke-width="0.8"/>
<path d="M155.99 695.80L157.59 693.10L154.39 693.10Z" fill="none" stroke="#00007d" stroke-width="0.8"/>
<path d="M158.22 691.18L159.82 688.48L156.62 688.48Z" fill="none" stroke="#00007d" stroke-width="0.8"/>
<path d="M160.45 688.29L162.05 685.59L158.85 685.59Z" fill="none" stroke="#00007d" stroke-width="0.8"/>
<path d="M162.68 686.91L164.28 684.21L161.08 684.21Z" fill="none" stroke="#00007d" stroke-width="0.8"/>
<path d="M164.91 681.25L166.51 678.55L163.31 678.55Z" fill="none" stroke="#00007d" stroke-width="0.8"/>
<path d="M167.14 683.41L168.74 680.71L165.54 680.71Z" fill="none" stroke="#00007d" stroke-width="0.8"/>
<path d="M169.37 680.63L170.97 677.93L167.77 677.93Z" fill="none" stroke="#00007d" stroke-width="0.8"/>
<path d="M171.60 677.40L173.20 674.70L170.00 674.70Z" fill="none" stroke="#00007d" stroke-width="0.8"/>
<path d="M173.83 678.45L175.43 675.75L172.23 675.75Z" fill="none" stroke="#00007d" stroke-width="0.8"/>
<path d="M176.06 677.72L177.66 675.02L174.46 675.02Z" fill="none" stroke="#00007d" stroke-width="0.8"/>
<path d="M178.29 671.88L179.89 669.18L176.69 669.18Z" fill="none" stroke="#00007d" stroke-width="0.8"/>
<path d="M180.52 671.58L182.12 668.88L178.92 668.88Z" fill="none" stroke="#00007d" stroke-width="0.8"/>
<path d="M182.75 671.42L184.35 668.72L181.15 668.72Z" fill="none" stroke="#00007d" stroke-width="0.8"/>
<path d="M184.98 669.29L186.58 666.59L183.38 666.59Z" fill="none" stroke="#00007d" stroke-width="0.8"/>
<path d="M187.21 666.49L188.81 663.79L185.61 663.79Z" fill="none" stroke="#00007d" stroke-width="0.8"/>
<path d="M189.44 663.70L191.04 661.00L187.84 661.00Z" fill="none" stroke="#00007d" stroke-width="0.8"/>
<path d="M191.67 666.57L193.27 663.87L190.07 663.87Z" fill="none" stroke="#00007d" stroke-width="0.8"/>
<path d="M193.90 663.91L195.50 661.21L192.30 661.21Z" fill="none" stroke="#00007d" stroke-width="0.8"/>
<path d="M196.13 659.64L197.73 656.94L194.53 656.94Z" fill="none" stroke="#00007d" stroke-width="0.8"/>
<path d="M198.36 658.28L199.96 655.58L196.76 655.58Z" fill="none" stroke="#00007d" stroke-width="0.8"/>
<path d="M200.59 661.00L202.19 658.30L198.99 658.30Z" fill="none" stroke="#00007d" stroke-width="0.8"/>
<path d="M202.82 658.46L204.42 655.76L201.22 655.76Z" fill="none" stroke="#00007d" stroke-width="0.8"/>
<path d="M205.05 658.08L206.65 655.38L203.45 655.38Z" fill="none" stroke="#00007d" stroke-width="0.8"/>
<path d="M207.28 655.29L208.88 652.59L205.68 652.59Z" fill="none" stroke="#00007d" stroke-width="0.8"/>
<path d="M209.51 651.82L211.11 649.12L207.91 649.12Z" fill="none" stroke="#00007d" stroke-width="0.8"/>
<path d="M211.74 652.29L213.34 649.59L210.14 649.59Z" fill="none" stroke="#00007d" stroke-width="0.8"/>
<path d="M213.97 647.79L215.57 645.09L212.37 645.09Z" fill="none" stroke="#00007d" stroke-width="0.8"/>
<path d="M216.20 648.84L217.80 646.14L214.60 646.14Z" fill="none" stroke="#00007d" stroke-width="0.8"/>
<path d="M218.43 648.93L220.03 646.23L216.83 646.23Z" fill="none" stroke="#00007d" stroke-width="0.8"/>
<path d="M220.66 648.86L222.26 646.16L219.06 646.16Z" fill="none" stroke="#00007d" stroke-width="0.8"/>
<path d="M222.89 646.10L224.49 643.40L221.29 643.40Z" fill="none" stroke="#00007d" stroke-width="0.8"/>
<path d="M225.12 645.36L226.72 642.66L223.52 642.66Z" fill="none" stroke="#00007d" stroke-width="0.8"/>
<path d="M227.35 644.59L228.95 641.89L225.75 641.89Z" fill="none" stroke="#00007d" stroke-width="0.8"/>
<path d="M229.58 642.88L231.18 640.18L227.98 640.18Z" fill="none" stroke="#00007d" stroke-width="0.8"/>
<path d="M231.81 641.86L233.41 639.16L230.21 639.16Z" fill="none" stroke="#00007d" stroke-width="0.8"/>
<path d="M234.04 640.01L235.64 637.31L232.44 637.31Z" fill="none" stroke="#00007d" stroke-width="0.8"/>
<path d="M236.27 638.01L237.87 635.31L234.67 635.31Z" fill="none" stroke="#00007d" stroke-width="0.8"/>
<path d="M238.50 638.32L240.10 635.62L236.90 635.62Z" fill="none" stroke="#00007d" stroke-width="0.8"/>
<path d="M240.73 636.04L242.33 633.34L239.13 633.34Z" fill="none" stroke="#00007d" stroke-width="0.8"/>
<path d="M242.96 633.87L244.56 631.17L241.36 631.17Z" fill="none" stroke="#00007d" stroke-width="0.8"/>
<path d="M245.19 633.71L246.79 631.01L243.59 631.01Z" fill="none" stroke="#00007d" stroke-width="0.8"/>
<path d="M247.42 634.14L249.02 631.44L245.82 631.44Z" fill="none" stroke="#00007d" stroke-width="0.8"/>
<path d="M249.65 633.54L251.25 630.84L248.05 630.84Z" fill="none" stroke="#00007d" stroke-width="0.8"/>
<path d="M251.88 633.46L253.48 630.76L250.28 630.76Z" fill="none" stroke="#00007d" stroke-width="0.8"/>
<path d="M254.11 632.79L255.71 630.09L252.51 630.09Z" fill="none" stroke="#00007d" stroke-width="0.8"/>
<path d="M256.34 631.71L257.94 629.01L254.74 629.01Z" fill="none" stroke="#00007d" stroke-width="0.8"/>
<path d="M258.57 629.95L260.17 627.25L256.97 627.25Z" fill="none" stroke="#00007d" stroke-width="0.8"/>
<path d="M260.80 627.05L262.40 624.35L259.20 624.35Z" fill="none" stroke="#00007d" stroke-width="0.8"/>
<path d="M263.03 628.08L264.63 625.38L261.43 625.38Z" fill="none" stroke="#00007d" stroke-width="0.8"/>
<path d="M265.26 627.63L266.86 624.93L263.66 624.93Z" fill="none" stroke="#00007d" stroke-width="0.8"/>
<path d="M267.49 625.62L269.09 622.92L265.89 622.92Z" fill="none" stroke="#00007d" stroke-width="0.8"/>
<path d="M269.72 623.74L271.32 621.04L268.12 621.04Z" fill="none" stroke="#00007d" stroke-width="0.8"/>
<path d="M271.95 623.61L273.55 620.91L270.35 620.91Z" fill="none" stroke="#00007d" stroke-width="0.8"/>
<path d="M274.18 620.62L275.78 617.92L272.58 617.92Z" fill="none" stroke="#00007d" stroke-width="0.8"/>
<path d="M276.41 618.30L278.01 615.60L274.81 615.60Z" fill="none" stroke="#00007d" stroke-width="0.8"/>
<path d="M278.64 620.03L280.24 617.33L277.04 617.33Z" fill="none" stroke="#00007d" stroke-width="0.8"/>
<path d="M280.87 617.64L282.47 614.94L279.27 614.94Z" fill="none" stroke="#00007d" stroke-width="0.8"/>
<path d="M283.10 618.98L284.70 616.28L281.50 616.28Z" fill="none" stroke="#00007d" stroke-width="0.8"/>
<path d="M285.33 615.42L286.93 612.72L283.73 612.72Z" fill="none" stroke="#00007d" stroke-width="0.8"/>
<path d="M287.56 612.25L289.16 609.55L285.96 609.55Z" fill="none" stroke="#00007d" stroke-width="0.8"/>
<path d="M289.79 613.47L291.39 610.77L288.19 610.77Z" fill="none" stroke="#00007d" stroke-width="0.8"/>
<path d="M292.02 616.62L293.62 613.92L290.42 613.92Z" fill="none" stroke="#00007d" stroke-width="0.8"/>
<path d="M294.25 613.51L295.85 610.81L292.65 610.81Z" fill="none" stroke="#00007d" stroke-width="0.8"/>
<path d="M296.48 611.76L298.08 609.06L294.88 609.06Z" fill="none" stroke="#00007d" stroke-width="0.8"/>
<path d="M298.71 612.24L300.31 609.54L297.11 609.54Z" fill="none" stroke="#00007d" stroke-width="0.8"/>
<path d="M300.94 613.67L302.54 610.97L299.34 610.97Z" fill="none" stroke="#00007d" stroke-width="0.8"/>
<path d="M303.17 613.27L304.77 610.57L301.57 610.57Z" fill="none" stroke="#00007d" stroke-width="0.8"/>
<path d="M305.40 612.55L307.00 609.85L303.80 609.85Z" fill="none" stroke="#00007d" stroke-width="0.8"/>
<line x1="242.50" y1="784.20" x2="251.00" y2="784.20" stroke="#ff0000" stroke-width="0.8"/>
<circle cx="246.7" cy="784.2" r="1.3" fill="#ff0000"/>
<text x="256.00" y="787.30" font-size="8.5" text-anchor="start" font-weight="bold" fill="#000" textLength="35.3" lengthAdjust="spacingAndGlyphs" stroke="#000" stroke-width="0.22" >Male 2m</text>
<line x1="242.50" y1="800.20" x2="251.00" y2="800.20" stroke="#9b0000" stroke-width="0.8"/>
<path d="M246.7 798.8000000000001L248.0 801.1L245.39999999999998 801.1Z" fill="#9b0000"/>
<text x="256.00" y="803.30" font-size="8.5" text-anchor="start" font-weight="bold" fill="#000" textLength="40.3" lengthAdjust="spacingAndGlyphs" stroke="#000" stroke-width="0.22" >Male 10m</text>
<line x1="242.50" y1="816.30" x2="251.00" y2="816.30" stroke="#0000ff" stroke-width="0.8"/>
<rect x="245.39999999999998" y="815.0" width="2.6" height="2.6" fill="#0000ff"/>
<text x="256.00" y="819.40" font-size="8.5" text-anchor="start" font-weight="bold" fill="#000" textLength="46.2" lengthAdjust="spacingAndGlyphs" stroke="#000" stroke-width="0.22" >Female 2m</text>
<line x1="242.50" y1="832.40" x2="251.00" y2="832.40" stroke="#00007d" stroke-width="0.8"/>
<path d="M246.7 833.8L248.1 831.4L245.29999999999998 831.4Z" fill="#00007d"/>
<text x="256.00" y="835.50" font-size="8.5" text-anchor="start" font-weight="bold" fill="#000" textLength="51.1" lengthAdjust="spacingAndGlyphs" stroke="#000" stroke-width="0.22" >Female 10m</text>
</svg>
</body></html>
